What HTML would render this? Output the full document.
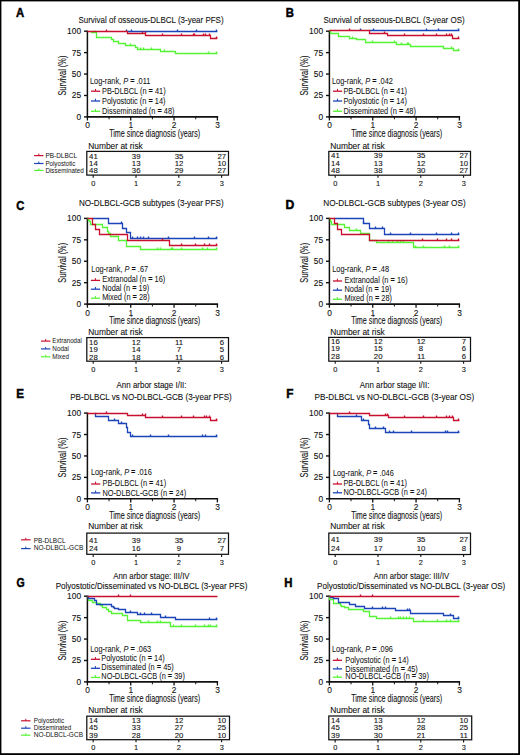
<!DOCTYPE html>
<html><head><meta charset="utf-8"><title>Kaplan-Meier survival figure</title>
<style>
html,body{margin:0;padding:0;background:#fff;}
body{width:520px;height:755px;overflow:hidden;}
svg{display:block;font-family:"Liberation Sans",sans-serif;}
text{stroke:#111;stroke-width:0.1px}

</style></head><body>
<svg width="520" height="755" viewBox="0 0 520 755">
<rect x="0" y="0" width="520" height="755" fill="#fff"/>
<g class="t">
<text x="16.02" y="16.9" font-size="12.9" font-weight="bold" fill="#000" style="stroke:#000;stroke-width:0.5px" textLength="8.19" lengthAdjust="spacingAndGlyphs">A</text>
<text x="285.76" y="16.9" font-size="12.9" font-weight="bold" fill="#000" style="stroke:#000;stroke-width:0.5px" textLength="8.17" lengthAdjust="spacingAndGlyphs">B</text>
<text x="16.25" y="209.5" font-size="12.9" font-weight="bold" fill="#000" style="stroke:#000;stroke-width:0.5px" textLength="8.05" lengthAdjust="spacingAndGlyphs">C</text>
<text x="285.51" y="209.2" font-size="12.9" font-weight="bold" fill="#000" style="stroke:#000;stroke-width:0.5px" textLength="8.81" lengthAdjust="spacingAndGlyphs">D</text>
<text x="16.14" y="397.9" font-size="12.9" font-weight="bold" fill="#000" style="stroke:#000;stroke-width:0.5px" textLength="7.79" lengthAdjust="spacingAndGlyphs">E</text>
<text x="286.24" y="397.9" font-size="12.9" font-weight="bold" fill="#000" style="stroke:#000;stroke-width:0.5px" textLength="7.19" lengthAdjust="spacingAndGlyphs">F</text>
<text x="16.48" y="586.7" font-size="12.9" font-weight="bold" fill="#000" style="stroke:#000;stroke-width:0.5px" textLength="8.18" lengthAdjust="spacingAndGlyphs">G</text>
<text x="284.36" y="586.9" font-size="12.9" font-weight="bold" fill="#000" style="stroke:#000;stroke-width:0.5px" textLength="8.2" lengthAdjust="spacingAndGlyphs">H</text>
<text x="78.44" y="23.2" font-size="9.8" fill="#111" textLength="145.15" lengthAdjust="spacingAndGlyphs">Survival of osseous-DLBCL (3-year PFS)</text>
<text x="323.44" y="23.2" font-size="9.8" fill="#111" textLength="141.25" lengthAdjust="spacingAndGlyphs">Survival of osseous-DLBCL (3-year OS)</text>
<text x="78.95" y="205.6" font-size="9.8" fill="#111" textLength="144.66" lengthAdjust="spacingAndGlyphs">NO-DLBCL-GCB subtypes (3-year PFS)</text>
<text x="323.24" y="205.7" font-size="9.8" fill="#111" textLength="142.38" lengthAdjust="spacingAndGlyphs">NO-DLBCL-GCB subtypes (3-year OS)</text>
<text x="116.5" y="387.6" font-size="9.5" fill="#111" textLength="70.04" lengthAdjust="spacingAndGlyphs">Ann arbor stage I/II:</text>
<text x="70.15" y="400.3" font-size="9.6" fill="#111" textLength="161.65" lengthAdjust="spacingAndGlyphs">PB-DLBCL vs NO-DLBCL-GCB (3-year PFS)</text>
<text x="359.8" y="387.6" font-size="9.5" fill="#111" textLength="69.64" lengthAdjust="spacingAndGlyphs">Ann arbor stage I/II:</text>
<text x="314.54" y="400.3" font-size="9.6" fill="#111" textLength="159.67" lengthAdjust="spacingAndGlyphs">PB-DLBCL vs NO-DLBCL-GCB (3-year OS)</text>
<text x="113.2" y="578.5" font-size="9.2" fill="#111" textLength="76.36" lengthAdjust="spacingAndGlyphs">Ann arbor stage: III/IV</text>
<text x="55.65" y="588.7" font-size="9.2" fill="#111" textLength="191.76" lengthAdjust="spacingAndGlyphs">Polyostotic/Disseminated vs NO-DLBCL (3-year PFS)</text>
<text x="373.8" y="578.6" font-size="9.2" fill="#111" textLength="75.46" lengthAdjust="spacingAndGlyphs">Ann arbor stage: III/IV</text>
<text x="317.05" y="588.7" font-size="9.2" fill="#111" textLength="188.26" lengthAdjust="spacingAndGlyphs">Polyostotic/Disseminated vs NO-DLBCL (3-year OS)</text>
<line x1="87.4" y1="30.6" x2="87.4" y2="117.6" stroke="#111" stroke-width="1.5" stroke-linecap="butt"/>
<line x1="86.7" y1="116.9" x2="218.09" y2="116.9" stroke="#111" stroke-width="1.6" stroke-linecap="butt"/>
<line x1="84" y1="116.9" x2="87.4" y2="116.9" stroke="#111" stroke-width="1.4" stroke-linecap="butt"/>
<text x="81.1" y="119.9" font-size="8.4" fill="#111" text-anchor="end">0</text>
<line x1="84" y1="95.48" x2="87.4" y2="95.48" stroke="#111" stroke-width="1.4" stroke-linecap="butt"/>
<text x="81.1" y="98.48" font-size="8.4" fill="#111" text-anchor="end">25</text>
<line x1="84" y1="74.05" x2="87.4" y2="74.05" stroke="#111" stroke-width="1.4" stroke-linecap="butt"/>
<text x="81.1" y="77.05" font-size="8.4" fill="#111" text-anchor="end">50</text>
<line x1="84" y1="52.62" x2="87.4" y2="52.62" stroke="#111" stroke-width="1.4" stroke-linecap="butt"/>
<text x="81.1" y="55.62" font-size="8.4" fill="#111" text-anchor="end">75</text>
<line x1="84" y1="31.2" x2="87.4" y2="31.2" stroke="#111" stroke-width="1.4" stroke-linecap="butt"/>
<text x="81.1" y="34.2" font-size="8.4" fill="#111" text-anchor="end">100</text>
<line x1="87.4" y1="116.9" x2="87.4" y2="120.5" stroke="#111" stroke-width="1.3" stroke-linecap="butt"/>
<text x="87.5" y="128.4" font-size="8.4" fill="#111" text-anchor="middle">0</text>
<line x1="130.73" y1="116.9" x2="130.73" y2="120.5" stroke="#111" stroke-width="1.3" stroke-linecap="butt"/>
<text x="130.83" y="128.4" font-size="8.4" fill="#111" text-anchor="middle">1</text>
<line x1="174.06" y1="116.9" x2="174.06" y2="120.5" stroke="#111" stroke-width="1.3" stroke-linecap="butt"/>
<text x="174.16" y="128.4" font-size="8.4" fill="#111" text-anchor="middle">2</text>
<line x1="217.39" y1="116.9" x2="217.39" y2="120.5" stroke="#111" stroke-width="1.3" stroke-linecap="butt"/>
<text x="217.49" y="128.4" font-size="8.4" fill="#111" text-anchor="middle">3</text>
<line x1="109.06" y1="116.9" x2="109.06" y2="119.3" stroke="#111" stroke-width="1" stroke-linecap="butt"/>
<line x1="152.4" y1="116.9" x2="152.4" y2="119.3" stroke="#111" stroke-width="1" stroke-linecap="butt"/>
<line x1="195.72" y1="116.9" x2="195.72" y2="119.3" stroke="#111" stroke-width="1" stroke-linecap="butt"/>
<text transform="translate(65.8,75.6) rotate(-90)" font-size="10.4" fill="#111" text-anchor="middle" textLength="40" lengthAdjust="spacingAndGlyphs">Survival (%)</text>
<text x="109.16" y="137" font-size="10.2" fill="#111" textLength="91.01" lengthAdjust="spacingAndGlyphs">Time since diagnosis (years)</text>
<line x1="329.4" y1="30.6" x2="329.4" y2="117.6" stroke="#111" stroke-width="1.5" stroke-linecap="butt"/>
<line x1="328.7" y1="116.9" x2="460.09" y2="116.9" stroke="#111" stroke-width="1.6" stroke-linecap="butt"/>
<line x1="326" y1="116.9" x2="329.4" y2="116.9" stroke="#111" stroke-width="1.4" stroke-linecap="butt"/>
<text x="323.1" y="119.9" font-size="8.4" fill="#111" text-anchor="end">0</text>
<line x1="326" y1="95.48" x2="329.4" y2="95.48" stroke="#111" stroke-width="1.4" stroke-linecap="butt"/>
<text x="323.1" y="98.48" font-size="8.4" fill="#111" text-anchor="end">25</text>
<line x1="326" y1="74.05" x2="329.4" y2="74.05" stroke="#111" stroke-width="1.4" stroke-linecap="butt"/>
<text x="323.1" y="77.05" font-size="8.4" fill="#111" text-anchor="end">50</text>
<line x1="326" y1="52.62" x2="329.4" y2="52.62" stroke="#111" stroke-width="1.4" stroke-linecap="butt"/>
<text x="323.1" y="55.62" font-size="8.4" fill="#111" text-anchor="end">75</text>
<line x1="326" y1="31.2" x2="329.4" y2="31.2" stroke="#111" stroke-width="1.4" stroke-linecap="butt"/>
<text x="323.1" y="34.2" font-size="8.4" fill="#111" text-anchor="end">100</text>
<line x1="329.4" y1="116.9" x2="329.4" y2="120.5" stroke="#111" stroke-width="1.3" stroke-linecap="butt"/>
<text x="329.5" y="128.4" font-size="8.4" fill="#111" text-anchor="middle">0</text>
<line x1="372.73" y1="116.9" x2="372.73" y2="120.5" stroke="#111" stroke-width="1.3" stroke-linecap="butt"/>
<text x="372.83" y="128.4" font-size="8.4" fill="#111" text-anchor="middle">1</text>
<line x1="416.06" y1="116.9" x2="416.06" y2="120.5" stroke="#111" stroke-width="1.3" stroke-linecap="butt"/>
<text x="416.16" y="128.4" font-size="8.4" fill="#111" text-anchor="middle">2</text>
<line x1="459.39" y1="116.9" x2="459.39" y2="120.5" stroke="#111" stroke-width="1.3" stroke-linecap="butt"/>
<text x="459.49" y="128.4" font-size="8.4" fill="#111" text-anchor="middle">3</text>
<line x1="351.06" y1="116.9" x2="351.06" y2="119.3" stroke="#111" stroke-width="1" stroke-linecap="butt"/>
<line x1="394.39" y1="116.9" x2="394.39" y2="119.3" stroke="#111" stroke-width="1" stroke-linecap="butt"/>
<line x1="437.72" y1="116.9" x2="437.72" y2="119.3" stroke="#111" stroke-width="1" stroke-linecap="butt"/>
<text transform="translate(307.8,75.6) rotate(-90)" font-size="10.4" fill="#111" text-anchor="middle" textLength="40" lengthAdjust="spacingAndGlyphs">Survival (%)</text>
<text x="351.16" y="137" font-size="10.2" fill="#111" textLength="91.01" lengthAdjust="spacingAndGlyphs">Time since diagnosis (years)</text>
<line x1="87.4" y1="217.8" x2="87.4" y2="304.8" stroke="#111" stroke-width="1.5" stroke-linecap="butt"/>
<line x1="86.7" y1="304.1" x2="218.09" y2="304.1" stroke="#111" stroke-width="1.6" stroke-linecap="butt"/>
<line x1="84" y1="304.1" x2="87.4" y2="304.1" stroke="#111" stroke-width="1.4" stroke-linecap="butt"/>
<text x="81.1" y="307.1" font-size="8.4" fill="#111" text-anchor="end">0</text>
<line x1="84" y1="282.68" x2="87.4" y2="282.68" stroke="#111" stroke-width="1.4" stroke-linecap="butt"/>
<text x="81.1" y="285.68" font-size="8.4" fill="#111" text-anchor="end">25</text>
<line x1="84" y1="261.25" x2="87.4" y2="261.25" stroke="#111" stroke-width="1.4" stroke-linecap="butt"/>
<text x="81.1" y="264.25" font-size="8.4" fill="#111" text-anchor="end">50</text>
<line x1="84" y1="239.83" x2="87.4" y2="239.83" stroke="#111" stroke-width="1.4" stroke-linecap="butt"/>
<text x="81.1" y="242.83" font-size="8.4" fill="#111" text-anchor="end">75</text>
<line x1="84" y1="218.4" x2="87.4" y2="218.4" stroke="#111" stroke-width="1.4" stroke-linecap="butt"/>
<text x="81.1" y="221.4" font-size="8.4" fill="#111" text-anchor="end">100</text>
<line x1="87.4" y1="304.1" x2="87.4" y2="307.7" stroke="#111" stroke-width="1.3" stroke-linecap="butt"/>
<text x="87.5" y="315.6" font-size="8.4" fill="#111" text-anchor="middle">0</text>
<line x1="130.73" y1="304.1" x2="130.73" y2="307.7" stroke="#111" stroke-width="1.3" stroke-linecap="butt"/>
<text x="130.83" y="315.6" font-size="8.4" fill="#111" text-anchor="middle">1</text>
<line x1="174.06" y1="304.1" x2="174.06" y2="307.7" stroke="#111" stroke-width="1.3" stroke-linecap="butt"/>
<text x="174.16" y="315.6" font-size="8.4" fill="#111" text-anchor="middle">2</text>
<line x1="217.39" y1="304.1" x2="217.39" y2="307.7" stroke="#111" stroke-width="1.3" stroke-linecap="butt"/>
<text x="217.49" y="315.6" font-size="8.4" fill="#111" text-anchor="middle">3</text>
<line x1="109.06" y1="304.1" x2="109.06" y2="306.5" stroke="#111" stroke-width="1" stroke-linecap="butt"/>
<line x1="152.4" y1="304.1" x2="152.4" y2="306.5" stroke="#111" stroke-width="1" stroke-linecap="butt"/>
<line x1="195.72" y1="304.1" x2="195.72" y2="306.5" stroke="#111" stroke-width="1" stroke-linecap="butt"/>
<text transform="translate(65.8,262.8) rotate(-90)" font-size="10.4" fill="#111" text-anchor="middle" textLength="40" lengthAdjust="spacingAndGlyphs">Survival (%)</text>
<text x="109.16" y="324.2" font-size="10.2" fill="#111" textLength="91.01" lengthAdjust="spacingAndGlyphs">Time since diagnosis (years)</text>
<line x1="329.4" y1="217.8" x2="329.4" y2="304.8" stroke="#111" stroke-width="1.5" stroke-linecap="butt"/>
<line x1="328.7" y1="304.1" x2="460.09" y2="304.1" stroke="#111" stroke-width="1.6" stroke-linecap="butt"/>
<line x1="326" y1="304.1" x2="329.4" y2="304.1" stroke="#111" stroke-width="1.4" stroke-linecap="butt"/>
<text x="323.1" y="307.1" font-size="8.4" fill="#111" text-anchor="end">0</text>
<line x1="326" y1="282.68" x2="329.4" y2="282.68" stroke="#111" stroke-width="1.4" stroke-linecap="butt"/>
<text x="323.1" y="285.68" font-size="8.4" fill="#111" text-anchor="end">25</text>
<line x1="326" y1="261.25" x2="329.4" y2="261.25" stroke="#111" stroke-width="1.4" stroke-linecap="butt"/>
<text x="323.1" y="264.25" font-size="8.4" fill="#111" text-anchor="end">50</text>
<line x1="326" y1="239.83" x2="329.4" y2="239.83" stroke="#111" stroke-width="1.4" stroke-linecap="butt"/>
<text x="323.1" y="242.83" font-size="8.4" fill="#111" text-anchor="end">75</text>
<line x1="326" y1="218.4" x2="329.4" y2="218.4" stroke="#111" stroke-width="1.4" stroke-linecap="butt"/>
<text x="323.1" y="221.4" font-size="8.4" fill="#111" text-anchor="end">100</text>
<line x1="329.4" y1="304.1" x2="329.4" y2="307.7" stroke="#111" stroke-width="1.3" stroke-linecap="butt"/>
<text x="329.5" y="315.6" font-size="8.4" fill="#111" text-anchor="middle">0</text>
<line x1="372.73" y1="304.1" x2="372.73" y2="307.7" stroke="#111" stroke-width="1.3" stroke-linecap="butt"/>
<text x="372.83" y="315.6" font-size="8.4" fill="#111" text-anchor="middle">1</text>
<line x1="416.06" y1="304.1" x2="416.06" y2="307.7" stroke="#111" stroke-width="1.3" stroke-linecap="butt"/>
<text x="416.16" y="315.6" font-size="8.4" fill="#111" text-anchor="middle">2</text>
<line x1="459.39" y1="304.1" x2="459.39" y2="307.7" stroke="#111" stroke-width="1.3" stroke-linecap="butt"/>
<text x="459.49" y="315.6" font-size="8.4" fill="#111" text-anchor="middle">3</text>
<line x1="351.06" y1="304.1" x2="351.06" y2="306.5" stroke="#111" stroke-width="1" stroke-linecap="butt"/>
<line x1="394.39" y1="304.1" x2="394.39" y2="306.5" stroke="#111" stroke-width="1" stroke-linecap="butt"/>
<line x1="437.72" y1="304.1" x2="437.72" y2="306.5" stroke="#111" stroke-width="1" stroke-linecap="butt"/>
<text transform="translate(307.8,262.8) rotate(-90)" font-size="10.4" fill="#111" text-anchor="middle" textLength="40" lengthAdjust="spacingAndGlyphs">Survival (%)</text>
<text x="351.16" y="324.2" font-size="10.2" fill="#111" textLength="91.01" lengthAdjust="spacingAndGlyphs">Time since diagnosis (years)</text>
<line x1="87.4" y1="412.5" x2="87.4" y2="499.5" stroke="#111" stroke-width="1.5" stroke-linecap="butt"/>
<line x1="86.7" y1="498.8" x2="218.09" y2="498.8" stroke="#111" stroke-width="1.6" stroke-linecap="butt"/>
<line x1="84" y1="498.8" x2="87.4" y2="498.8" stroke="#111" stroke-width="1.4" stroke-linecap="butt"/>
<text x="81.1" y="501.8" font-size="8.4" fill="#111" text-anchor="end">0</text>
<line x1="84" y1="477.38" x2="87.4" y2="477.38" stroke="#111" stroke-width="1.4" stroke-linecap="butt"/>
<text x="81.1" y="480.38" font-size="8.4" fill="#111" text-anchor="end">25</text>
<line x1="84" y1="455.95" x2="87.4" y2="455.95" stroke="#111" stroke-width="1.4" stroke-linecap="butt"/>
<text x="81.1" y="458.95" font-size="8.4" fill="#111" text-anchor="end">50</text>
<line x1="84" y1="434.52" x2="87.4" y2="434.52" stroke="#111" stroke-width="1.4" stroke-linecap="butt"/>
<text x="81.1" y="437.52" font-size="8.4" fill="#111" text-anchor="end">75</text>
<line x1="84" y1="413.1" x2="87.4" y2="413.1" stroke="#111" stroke-width="1.4" stroke-linecap="butt"/>
<text x="81.1" y="416.1" font-size="8.4" fill="#111" text-anchor="end">100</text>
<line x1="87.4" y1="498.8" x2="87.4" y2="502.4" stroke="#111" stroke-width="1.3" stroke-linecap="butt"/>
<text x="87.5" y="510.3" font-size="8.4" fill="#111" text-anchor="middle">0</text>
<line x1="130.73" y1="498.8" x2="130.73" y2="502.4" stroke="#111" stroke-width="1.3" stroke-linecap="butt"/>
<text x="130.83" y="510.3" font-size="8.4" fill="#111" text-anchor="middle">1</text>
<line x1="174.06" y1="498.8" x2="174.06" y2="502.4" stroke="#111" stroke-width="1.3" stroke-linecap="butt"/>
<text x="174.16" y="510.3" font-size="8.4" fill="#111" text-anchor="middle">2</text>
<line x1="217.39" y1="498.8" x2="217.39" y2="502.4" stroke="#111" stroke-width="1.3" stroke-linecap="butt"/>
<text x="217.49" y="510.3" font-size="8.4" fill="#111" text-anchor="middle">3</text>
<line x1="109.06" y1="498.8" x2="109.06" y2="501.2" stroke="#111" stroke-width="1" stroke-linecap="butt"/>
<line x1="152.4" y1="498.8" x2="152.4" y2="501.2" stroke="#111" stroke-width="1" stroke-linecap="butt"/>
<line x1="195.72" y1="498.8" x2="195.72" y2="501.2" stroke="#111" stroke-width="1" stroke-linecap="butt"/>
<text transform="translate(65.8,457.5) rotate(-90)" font-size="10.4" fill="#111" text-anchor="middle" textLength="40" lengthAdjust="spacingAndGlyphs">Survival (%)</text>
<text x="109.16" y="518.9" font-size="10.2" fill="#111" textLength="91.01" lengthAdjust="spacingAndGlyphs">Time since diagnosis (years)</text>
<line x1="329.4" y1="412.5" x2="329.4" y2="499.5" stroke="#111" stroke-width="1.5" stroke-linecap="butt"/>
<line x1="328.7" y1="498.8" x2="460.09" y2="498.8" stroke="#111" stroke-width="1.6" stroke-linecap="butt"/>
<line x1="326" y1="498.8" x2="329.4" y2="498.8" stroke="#111" stroke-width="1.4" stroke-linecap="butt"/>
<text x="323.1" y="501.8" font-size="8.4" fill="#111" text-anchor="end">0</text>
<line x1="326" y1="477.38" x2="329.4" y2="477.38" stroke="#111" stroke-width="1.4" stroke-linecap="butt"/>
<text x="323.1" y="480.38" font-size="8.4" fill="#111" text-anchor="end">25</text>
<line x1="326" y1="455.95" x2="329.4" y2="455.95" stroke="#111" stroke-width="1.4" stroke-linecap="butt"/>
<text x="323.1" y="458.95" font-size="8.4" fill="#111" text-anchor="end">50</text>
<line x1="326" y1="434.52" x2="329.4" y2="434.52" stroke="#111" stroke-width="1.4" stroke-linecap="butt"/>
<text x="323.1" y="437.52" font-size="8.4" fill="#111" text-anchor="end">75</text>
<line x1="326" y1="413.1" x2="329.4" y2="413.1" stroke="#111" stroke-width="1.4" stroke-linecap="butt"/>
<text x="323.1" y="416.1" font-size="8.4" fill="#111" text-anchor="end">100</text>
<line x1="329.4" y1="498.8" x2="329.4" y2="502.4" stroke="#111" stroke-width="1.3" stroke-linecap="butt"/>
<text x="329.5" y="510.3" font-size="8.4" fill="#111" text-anchor="middle">0</text>
<line x1="372.73" y1="498.8" x2="372.73" y2="502.4" stroke="#111" stroke-width="1.3" stroke-linecap="butt"/>
<text x="372.83" y="510.3" font-size="8.4" fill="#111" text-anchor="middle">1</text>
<line x1="416.06" y1="498.8" x2="416.06" y2="502.4" stroke="#111" stroke-width="1.3" stroke-linecap="butt"/>
<text x="416.16" y="510.3" font-size="8.4" fill="#111" text-anchor="middle">2</text>
<line x1="459.39" y1="498.8" x2="459.39" y2="502.4" stroke="#111" stroke-width="1.3" stroke-linecap="butt"/>
<text x="459.49" y="510.3" font-size="8.4" fill="#111" text-anchor="middle">3</text>
<line x1="351.06" y1="498.8" x2="351.06" y2="501.2" stroke="#111" stroke-width="1" stroke-linecap="butt"/>
<line x1="394.39" y1="498.8" x2="394.39" y2="501.2" stroke="#111" stroke-width="1" stroke-linecap="butt"/>
<line x1="437.72" y1="498.8" x2="437.72" y2="501.2" stroke="#111" stroke-width="1" stroke-linecap="butt"/>
<text transform="translate(307.8,457.5) rotate(-90)" font-size="10.4" fill="#111" text-anchor="middle" textLength="40" lengthAdjust="spacingAndGlyphs">Survival (%)</text>
<text x="351.16" y="518.9" font-size="10.2" fill="#111" textLength="91.01" lengthAdjust="spacingAndGlyphs">Time since diagnosis (years)</text>
<line x1="87.4" y1="595.6" x2="87.4" y2="682.6" stroke="#111" stroke-width="1.5" stroke-linecap="butt"/>
<line x1="86.7" y1="681.9" x2="218.09" y2="681.9" stroke="#111" stroke-width="1.6" stroke-linecap="butt"/>
<line x1="84" y1="681.9" x2="87.4" y2="681.9" stroke="#111" stroke-width="1.4" stroke-linecap="butt"/>
<text x="81.1" y="684.9" font-size="8.4" fill="#111" text-anchor="end">0</text>
<line x1="84" y1="660.48" x2="87.4" y2="660.48" stroke="#111" stroke-width="1.4" stroke-linecap="butt"/>
<text x="81.1" y="663.48" font-size="8.4" fill="#111" text-anchor="end">25</text>
<line x1="84" y1="639.05" x2="87.4" y2="639.05" stroke="#111" stroke-width="1.4" stroke-linecap="butt"/>
<text x="81.1" y="642.05" font-size="8.4" fill="#111" text-anchor="end">50</text>
<line x1="84" y1="617.62" x2="87.4" y2="617.62" stroke="#111" stroke-width="1.4" stroke-linecap="butt"/>
<text x="81.1" y="620.62" font-size="8.4" fill="#111" text-anchor="end">75</text>
<line x1="84" y1="596.2" x2="87.4" y2="596.2" stroke="#111" stroke-width="1.4" stroke-linecap="butt"/>
<text x="81.1" y="599.2" font-size="8.4" fill="#111" text-anchor="end">100</text>
<line x1="87.4" y1="681.9" x2="87.4" y2="685.5" stroke="#111" stroke-width="1.3" stroke-linecap="butt"/>
<text x="87.5" y="693.4" font-size="8.4" fill="#111" text-anchor="middle">0</text>
<line x1="130.73" y1="681.9" x2="130.73" y2="685.5" stroke="#111" stroke-width="1.3" stroke-linecap="butt"/>
<text x="130.83" y="693.4" font-size="8.4" fill="#111" text-anchor="middle">1</text>
<line x1="174.06" y1="681.9" x2="174.06" y2="685.5" stroke="#111" stroke-width="1.3" stroke-linecap="butt"/>
<text x="174.16" y="693.4" font-size="8.4" fill="#111" text-anchor="middle">2</text>
<line x1="217.39" y1="681.9" x2="217.39" y2="685.5" stroke="#111" stroke-width="1.3" stroke-linecap="butt"/>
<text x="217.49" y="693.4" font-size="8.4" fill="#111" text-anchor="middle">3</text>
<line x1="109.06" y1="681.9" x2="109.06" y2="684.3" stroke="#111" stroke-width="1" stroke-linecap="butt"/>
<line x1="152.4" y1="681.9" x2="152.4" y2="684.3" stroke="#111" stroke-width="1" stroke-linecap="butt"/>
<line x1="195.72" y1="681.9" x2="195.72" y2="684.3" stroke="#111" stroke-width="1" stroke-linecap="butt"/>
<text transform="translate(65.8,640.6) rotate(-90)" font-size="10.4" fill="#111" text-anchor="middle" textLength="40" lengthAdjust="spacingAndGlyphs">Survival (%)</text>
<text x="109.16" y="702" font-size="10.2" fill="#111" textLength="91.01" lengthAdjust="spacingAndGlyphs">Time since diagnosis (years)</text>
<line x1="329.4" y1="595.6" x2="329.4" y2="682.6" stroke="#111" stroke-width="1.5" stroke-linecap="butt"/>
<line x1="328.7" y1="681.9" x2="460.09" y2="681.9" stroke="#111" stroke-width="1.6" stroke-linecap="butt"/>
<line x1="326" y1="681.9" x2="329.4" y2="681.9" stroke="#111" stroke-width="1.4" stroke-linecap="butt"/>
<text x="323.1" y="684.9" font-size="8.4" fill="#111" text-anchor="end">0</text>
<line x1="326" y1="660.48" x2="329.4" y2="660.48" stroke="#111" stroke-width="1.4" stroke-linecap="butt"/>
<text x="323.1" y="663.48" font-size="8.4" fill="#111" text-anchor="end">25</text>
<line x1="326" y1="639.05" x2="329.4" y2="639.05" stroke="#111" stroke-width="1.4" stroke-linecap="butt"/>
<text x="323.1" y="642.05" font-size="8.4" fill="#111" text-anchor="end">50</text>
<line x1="326" y1="617.62" x2="329.4" y2="617.62" stroke="#111" stroke-width="1.4" stroke-linecap="butt"/>
<text x="323.1" y="620.62" font-size="8.4" fill="#111" text-anchor="end">75</text>
<line x1="326" y1="596.2" x2="329.4" y2="596.2" stroke="#111" stroke-width="1.4" stroke-linecap="butt"/>
<text x="323.1" y="599.2" font-size="8.4" fill="#111" text-anchor="end">100</text>
<line x1="329.4" y1="681.9" x2="329.4" y2="685.5" stroke="#111" stroke-width="1.3" stroke-linecap="butt"/>
<text x="329.5" y="693.4" font-size="8.4" fill="#111" text-anchor="middle">0</text>
<line x1="372.73" y1="681.9" x2="372.73" y2="685.5" stroke="#111" stroke-width="1.3" stroke-linecap="butt"/>
<text x="372.83" y="693.4" font-size="8.4" fill="#111" text-anchor="middle">1</text>
<line x1="416.06" y1="681.9" x2="416.06" y2="685.5" stroke="#111" stroke-width="1.3" stroke-linecap="butt"/>
<text x="416.16" y="693.4" font-size="8.4" fill="#111" text-anchor="middle">2</text>
<line x1="459.39" y1="681.9" x2="459.39" y2="685.5" stroke="#111" stroke-width="1.3" stroke-linecap="butt"/>
<text x="459.49" y="693.4" font-size="8.4" fill="#111" text-anchor="middle">3</text>
<line x1="351.06" y1="681.9" x2="351.06" y2="684.3" stroke="#111" stroke-width="1" stroke-linecap="butt"/>
<line x1="394.39" y1="681.9" x2="394.39" y2="684.3" stroke="#111" stroke-width="1" stroke-linecap="butt"/>
<line x1="437.72" y1="681.9" x2="437.72" y2="684.3" stroke="#111" stroke-width="1" stroke-linecap="butt"/>
<text transform="translate(307.8,640.6) rotate(-90)" font-size="10.4" fill="#111" text-anchor="middle" textLength="40" lengthAdjust="spacingAndGlyphs">Survival (%)</text>
<text x="351.16" y="702" font-size="10.2" fill="#111" textLength="91.01" lengthAdjust="spacingAndGlyphs">Time since diagnosis (years)</text>
<path d="M91.5 31.5H91.5 V32.5H96.5 V37.5H111.5 V39.5H113.5 V41.5H118.5 V43.5H125.5 V45.5H135.5 V47.5H137.5 V49.5H160.5 V51.5H175.5 V53.5H217.39" fill="none" stroke="#55f535" stroke-width="1.3" stroke-linejoin="miter"/>
<line x1="95.5" y1="32.5" x2="95.5" y2="30.5" stroke="#55f535" stroke-width="1.4" stroke-linecap="butt"/>
<line x1="130.5" y1="45.5" x2="130.5" y2="43.5" stroke="#55f535" stroke-width="1.4" stroke-linecap="butt"/>
<line x1="140.5" y1="49.5" x2="140.5" y2="47.5" stroke="#55f535" stroke-width="1.4" stroke-linecap="butt"/>
<line x1="143.5" y1="49.5" x2="143.5" y2="47.5" stroke="#55f535" stroke-width="1.4" stroke-linecap="butt"/>
<line x1="151.5" y1="49.5" x2="151.5" y2="47.5" stroke="#55f535" stroke-width="1.4" stroke-linecap="butt"/>
<line x1="164.5" y1="51.5" x2="164.5" y2="49.5" stroke="#55f535" stroke-width="1.4" stroke-linecap="butt"/>
<line x1="208.5" y1="53.5" x2="208.5" y2="51.5" stroke="#55f535" stroke-width="1.4" stroke-linecap="butt"/>
<line x1="216.5" y1="53.5" x2="216.5" y2="51.5" stroke="#55f535" stroke-width="1.4" stroke-linecap="butt"/>
<path d="M127.7 31.5H217.39" fill="none" stroke="#1a44b8" stroke-width="1.3" stroke-linejoin="miter"/>
<line x1="126.5" y1="31.5" x2="126.5" y2="29.5" stroke="#1a44b8" stroke-width="1.4" stroke-linecap="butt"/>
<line x1="131.5" y1="31.5" x2="131.5" y2="29.5" stroke="#1a44b8" stroke-width="1.4" stroke-linecap="butt"/>
<line x1="177.5" y1="31.5" x2="177.5" y2="29.5" stroke="#1a44b8" stroke-width="1.4" stroke-linecap="butt"/>
<line x1="196.5" y1="31.5" x2="196.5" y2="29.5" stroke="#1a44b8" stroke-width="1.4" stroke-linecap="butt"/>
<line x1="216.5" y1="31.5" x2="216.5" y2="29.5" stroke="#1a44b8" stroke-width="1.4" stroke-linecap="butt"/>
<path d="M87.4 31.5H127.5 V33.5H145.5 V35.5H210.5 V38.5H217.39" fill="none" stroke="#c8102e" stroke-width="1.3" stroke-linejoin="miter"/>
<line x1="106.5" y1="31.5" x2="106.5" y2="29.5" stroke="#c8102e" stroke-width="1.4" stroke-linecap="butt"/>
<line x1="142.5" y1="33.5" x2="142.5" y2="31.5" stroke="#c8102e" stroke-width="1.4" stroke-linecap="butt"/>
<line x1="145.5" y1="33.5" x2="145.5" y2="31.5" stroke="#c8102e" stroke-width="1.4" stroke-linecap="butt"/>
<line x1="162.5" y1="35.5" x2="162.5" y2="33.5" stroke="#c8102e" stroke-width="1.4" stroke-linecap="butt"/>
<line x1="181.5" y1="35.5" x2="181.5" y2="33.5" stroke="#c8102e" stroke-width="1.4" stroke-linecap="butt"/>
<line x1="193.5" y1="35.5" x2="193.5" y2="33.5" stroke="#c8102e" stroke-width="1.4" stroke-linecap="butt"/>
<line x1="194.5" y1="35.5" x2="194.5" y2="33.5" stroke="#c8102e" stroke-width="1.4" stroke-linecap="butt"/>
<line x1="203.5" y1="35.5" x2="203.5" y2="33.5" stroke="#c8102e" stroke-width="1.4" stroke-linecap="butt"/>
<line x1="205.5" y1="35.5" x2="205.5" y2="33.5" stroke="#c8102e" stroke-width="1.4" stroke-linecap="butt"/>
<line x1="209.5" y1="35.5" x2="209.5" y2="33.5" stroke="#c8102e" stroke-width="1.4" stroke-linecap="butt"/>
<line x1="216.5" y1="38.5" x2="216.5" y2="36.5" stroke="#c8102e" stroke-width="1.4" stroke-linecap="butt"/>
<path d="M329.4 30.5H330.5 V33.5H338.5 V36.5H349.5 V38.5H356.5 V39.5H365.5 V42.5H396.5 V44.5H410.5 V46.5H443.5 V48.5H453.5 V50.5H459.39" fill="none" stroke="#55f535" stroke-width="1.3" stroke-linejoin="miter"/>
<line x1="352.5" y1="38.5" x2="352.5" y2="36.5" stroke="#55f535" stroke-width="1.4" stroke-linecap="butt"/>
<line x1="372.5" y1="42.5" x2="372.5" y2="40.5" stroke="#55f535" stroke-width="1.4" stroke-linecap="butt"/>
<line x1="394.5" y1="42.5" x2="394.5" y2="40.5" stroke="#55f535" stroke-width="1.4" stroke-linecap="butt"/>
<line x1="401.5" y1="44.5" x2="401.5" y2="42.5" stroke="#55f535" stroke-width="1.4" stroke-linecap="butt"/>
<line x1="407.5" y1="44.5" x2="407.5" y2="42.5" stroke="#55f535" stroke-width="1.4" stroke-linecap="butt"/>
<line x1="408.5" y1="44.5" x2="408.5" y2="42.5" stroke="#55f535" stroke-width="1.4" stroke-linecap="butt"/>
<line x1="451.5" y1="48.5" x2="451.5" y2="46.5" stroke="#55f535" stroke-width="1.4" stroke-linecap="butt"/>
<line x1="458.5" y1="50.5" x2="458.5" y2="48.5" stroke="#55f535" stroke-width="1.4" stroke-linecap="butt"/>
<path d="M369.5 30.5H459.39" fill="none" stroke="#1a44b8" stroke-width="1.3" stroke-linejoin="miter"/>
<line x1="360.5" y1="30.5" x2="360.5" y2="28.5" stroke="#1a44b8" stroke-width="1.4" stroke-linecap="butt"/>
<line x1="373.5" y1="30.5" x2="373.5" y2="28.5" stroke="#1a44b8" stroke-width="1.4" stroke-linecap="butt"/>
<line x1="426.5" y1="30.5" x2="426.5" y2="28.5" stroke="#1a44b8" stroke-width="1.4" stroke-linecap="butt"/>
<line x1="438.5" y1="30.5" x2="438.5" y2="28.5" stroke="#1a44b8" stroke-width="1.4" stroke-linecap="butt"/>
<line x1="458.5" y1="30.5" x2="458.5" y2="28.5" stroke="#1a44b8" stroke-width="1.4" stroke-linecap="butt"/>
<path d="M329.4 30.5H369.5 V33.5H387.5 V35.5H452.5 V38.5H459.39" fill="none" stroke="#c8102e" stroke-width="1.3" stroke-linejoin="miter"/>
<line x1="349.5" y1="30.5" x2="349.5" y2="28.5" stroke="#c8102e" stroke-width="1.4" stroke-linecap="butt"/>
<line x1="384.5" y1="33.5" x2="384.5" y2="31.5" stroke="#c8102e" stroke-width="1.4" stroke-linecap="butt"/>
<line x1="404.5" y1="35.5" x2="404.5" y2="33.5" stroke="#c8102e" stroke-width="1.4" stroke-linecap="butt"/>
<line x1="423.5" y1="35.5" x2="423.5" y2="33.5" stroke="#c8102e" stroke-width="1.4" stroke-linecap="butt"/>
<line x1="436.5" y1="35.5" x2="436.5" y2="33.5" stroke="#c8102e" stroke-width="1.4" stroke-linecap="butt"/>
<line x1="446.5" y1="35.5" x2="446.5" y2="33.5" stroke="#c8102e" stroke-width="1.4" stroke-linecap="butt"/>
<line x1="449.5" y1="35.5" x2="449.5" y2="33.5" stroke="#c8102e" stroke-width="1.4" stroke-linecap="butt"/>
<line x1="451.5" y1="35.5" x2="451.5" y2="33.5" stroke="#c8102e" stroke-width="1.4" stroke-linecap="butt"/>
<line x1="458.5" y1="38.5" x2="458.5" y2="36.5" stroke="#c8102e" stroke-width="1.4" stroke-linecap="butt"/>
<path d="M87.4 218.5H88.5 V220.5H89.5 V221.5H90.5 V224.5H102.5 V227.5H107.5 V231.5H108.5 V233.5H110.5 V236.5H118.5 V240.5H126.5 V246.5H140.5 V249.5H217.39" fill="none" stroke="#55f535" stroke-width="1.3" stroke-linejoin="miter"/>
<line x1="157.5" y1="249.5" x2="157.5" y2="247.5" stroke="#55f535" stroke-width="1.4" stroke-linecap="butt"/>
<line x1="160.5" y1="249.5" x2="160.5" y2="247.5" stroke="#55f535" stroke-width="1.4" stroke-linecap="butt"/>
<line x1="171.5" y1="249.5" x2="171.5" y2="247.5" stroke="#55f535" stroke-width="1.4" stroke-linecap="butt"/>
<line x1="172.5" y1="249.5" x2="172.5" y2="247.5" stroke="#55f535" stroke-width="1.4" stroke-linecap="butt"/>
<line x1="181.5" y1="249.5" x2="181.5" y2="247.5" stroke="#55f535" stroke-width="1.4" stroke-linecap="butt"/>
<line x1="202.5" y1="249.5" x2="202.5" y2="247.5" stroke="#55f535" stroke-width="1.4" stroke-linecap="butt"/>
<line x1="207.5" y1="249.5" x2="207.5" y2="247.5" stroke="#55f535" stroke-width="1.4" stroke-linecap="butt"/>
<line x1="216.5" y1="249.5" x2="216.5" y2="247.5" stroke="#55f535" stroke-width="1.4" stroke-linecap="butt"/>
<path d="M92.5 218.5H108.5 V223.5H122.5 V228.5H126.5 V232.5H130.5 V238.5H217.39" fill="none" stroke="#1a44b8" stroke-width="1.3" stroke-linejoin="miter"/>
<line x1="121.5" y1="223.5" x2="121.5" y2="221.5" stroke="#1a44b8" stroke-width="1.4" stroke-linecap="butt"/>
<line x1="132.5" y1="238.5" x2="132.5" y2="236.5" stroke="#1a44b8" stroke-width="1.4" stroke-linecap="butt"/>
<line x1="137.5" y1="238.5" x2="137.5" y2="236.5" stroke="#1a44b8" stroke-width="1.4" stroke-linecap="butt"/>
<line x1="140.5" y1="238.5" x2="140.5" y2="236.5" stroke="#1a44b8" stroke-width="1.4" stroke-linecap="butt"/>
<line x1="143.5" y1="238.5" x2="143.5" y2="236.5" stroke="#1a44b8" stroke-width="1.4" stroke-linecap="butt"/>
<line x1="148.5" y1="238.5" x2="148.5" y2="236.5" stroke="#1a44b8" stroke-width="1.4" stroke-linecap="butt"/>
<line x1="168.5" y1="238.5" x2="168.5" y2="236.5" stroke="#1a44b8" stroke-width="1.4" stroke-linecap="butt"/>
<line x1="194.5" y1="238.5" x2="194.5" y2="236.5" stroke="#1a44b8" stroke-width="1.4" stroke-linecap="butt"/>
<line x1="208.5" y1="238.5" x2="208.5" y2="236.5" stroke="#1a44b8" stroke-width="1.4" stroke-linecap="butt"/>
<line x1="216.5" y1="238.5" x2="216.5" y2="236.5" stroke="#1a44b8" stroke-width="1.4" stroke-linecap="butt"/>
<path d="M87.4 218.5H92.5 V224.5H95.5 V229.5H99.5 V234.5H127.5 V240.5H169.5 V245.5H217.39" fill="none" stroke="#c8102e" stroke-width="1.3" stroke-linejoin="miter"/>
<line x1="162.5" y1="240.5" x2="162.5" y2="238.5" stroke="#c8102e" stroke-width="1.4" stroke-linecap="butt"/>
<line x1="181.5" y1="245.5" x2="181.5" y2="243.5" stroke="#c8102e" stroke-width="1.4" stroke-linecap="butt"/>
<line x1="195.5" y1="245.5" x2="195.5" y2="243.5" stroke="#c8102e" stroke-width="1.4" stroke-linecap="butt"/>
<line x1="204.5" y1="245.5" x2="204.5" y2="243.5" stroke="#c8102e" stroke-width="1.4" stroke-linecap="butt"/>
<line x1="209.5" y1="245.5" x2="209.5" y2="243.5" stroke="#c8102e" stroke-width="1.4" stroke-linecap="butt"/>
<line x1="216.5" y1="245.5" x2="216.5" y2="243.5" stroke="#c8102e" stroke-width="1.4" stroke-linecap="butt"/>
<path d="M329.4 218.5H330.5 V221.5H331.5 V224.5H344.5 V227.5H349.5 V230.5H360.5 V233.5H369.5 V240.5H376.5 V242.5H413.5 V247.5H459.39" fill="none" stroke="#55f535" stroke-width="1.3" stroke-linejoin="miter"/>
<line x1="356.5" y1="230.5" x2="356.5" y2="228.5" stroke="#55f535" stroke-width="1.4" stroke-linecap="butt"/>
<line x1="388.5" y1="242.5" x2="388.5" y2="240.5" stroke="#55f535" stroke-width="1.4" stroke-linecap="butt"/>
<line x1="392.5" y1="242.5" x2="392.5" y2="240.5" stroke="#55f535" stroke-width="1.4" stroke-linecap="butt"/>
<line x1="397.5" y1="242.5" x2="397.5" y2="240.5" stroke="#55f535" stroke-width="1.4" stroke-linecap="butt"/>
<line x1="400.5" y1="242.5" x2="400.5" y2="240.5" stroke="#55f535" stroke-width="1.4" stroke-linecap="butt"/>
<line x1="403.5" y1="242.5" x2="403.5" y2="240.5" stroke="#55f535" stroke-width="1.4" stroke-linecap="butt"/>
<line x1="415.5" y1="247.5" x2="415.5" y2="245.5" stroke="#55f535" stroke-width="1.4" stroke-linecap="butt"/>
<line x1="423.5" y1="247.5" x2="423.5" y2="245.5" stroke="#55f535" stroke-width="1.4" stroke-linecap="butt"/>
<line x1="444.5" y1="247.5" x2="444.5" y2="245.5" stroke="#55f535" stroke-width="1.4" stroke-linecap="butt"/>
<line x1="449.5" y1="247.5" x2="449.5" y2="245.5" stroke="#55f535" stroke-width="1.4" stroke-linecap="butt"/>
<line x1="458.5" y1="247.5" x2="458.5" y2="245.5" stroke="#55f535" stroke-width="1.4" stroke-linecap="butt"/>
<path d="M334.5 218.5H363.5 V223.5H369.5 V228.5H384.5 V234.5H459.39" fill="none" stroke="#1a44b8" stroke-width="1.3" stroke-linejoin="miter"/>
<line x1="363.5" y1="223.5" x2="363.5" y2="221.5" stroke="#1a44b8" stroke-width="1.4" stroke-linecap="butt"/>
<line x1="375.5" y1="228.5" x2="375.5" y2="226.5" stroke="#1a44b8" stroke-width="1.4" stroke-linecap="butt"/>
<line x1="382.5" y1="228.5" x2="382.5" y2="226.5" stroke="#1a44b8" stroke-width="1.4" stroke-linecap="butt"/>
<line x1="390.5" y1="234.5" x2="390.5" y2="232.5" stroke="#1a44b8" stroke-width="1.4" stroke-linecap="butt"/>
<line x1="410.5" y1="234.5" x2="410.5" y2="232.5" stroke="#1a44b8" stroke-width="1.4" stroke-linecap="butt"/>
<line x1="436.5" y1="234.5" x2="436.5" y2="232.5" stroke="#1a44b8" stroke-width="1.4" stroke-linecap="butt"/>
<line x1="451.5" y1="234.5" x2="451.5" y2="232.5" stroke="#1a44b8" stroke-width="1.4" stroke-linecap="butt"/>
<line x1="458.5" y1="234.5" x2="458.5" y2="232.5" stroke="#1a44b8" stroke-width="1.4" stroke-linecap="butt"/>
<path d="M329.4 218.5H334.5 V223.5H337.5 V229.5H341.5 V234.5H369.5 V240.5H459.39" fill="none" stroke="#c8102e" stroke-width="1.3" stroke-linejoin="miter"/>
<line x1="422.5" y1="240.5" x2="422.5" y2="238.5" stroke="#c8102e" stroke-width="1.4" stroke-linecap="butt"/>
<line x1="437.5" y1="240.5" x2="437.5" y2="238.5" stroke="#c8102e" stroke-width="1.4" stroke-linecap="butt"/>
<line x1="446.5" y1="240.5" x2="446.5" y2="238.5" stroke="#c8102e" stroke-width="1.4" stroke-linecap="butt"/>
<line x1="451.5" y1="240.5" x2="451.5" y2="238.5" stroke="#c8102e" stroke-width="1.4" stroke-linecap="butt"/>
<line x1="458.5" y1="240.5" x2="458.5" y2="238.5" stroke="#c8102e" stroke-width="1.4" stroke-linecap="butt"/>
<path d="M95.2 413.5H95.5 V416.5H108.5 V420.5H118.5 V423.5H126.5 V427.5H127.5 V432.5H130.5 V436.5H217.39" fill="none" stroke="#1a44b8" stroke-width="1.3" stroke-linejoin="miter"/>
<line x1="114.5" y1="420.5" x2="114.5" y2="418.5" stroke="#1a44b8" stroke-width="1.4" stroke-linecap="butt"/>
<line x1="121.5" y1="423.5" x2="121.5" y2="421.5" stroke="#1a44b8" stroke-width="1.4" stroke-linecap="butt"/>
<line x1="132.5" y1="436.5" x2="132.5" y2="434.5" stroke="#1a44b8" stroke-width="1.4" stroke-linecap="butt"/>
<line x1="150.5" y1="436.5" x2="150.5" y2="434.5" stroke="#1a44b8" stroke-width="1.4" stroke-linecap="butt"/>
<line x1="168.5" y1="436.5" x2="168.5" y2="434.5" stroke="#1a44b8" stroke-width="1.4" stroke-linecap="butt"/>
<line x1="202.5" y1="436.5" x2="202.5" y2="434.5" stroke="#1a44b8" stroke-width="1.4" stroke-linecap="butt"/>
<line x1="205.5" y1="436.5" x2="205.5" y2="434.5" stroke="#1a44b8" stroke-width="1.4" stroke-linecap="butt"/>
<line x1="216.5" y1="436.5" x2="216.5" y2="434.5" stroke="#1a44b8" stroke-width="1.4" stroke-linecap="butt"/>
<path d="M87.4 413.5H127.5 V415.5H145.5 V417.5H210.5 V420.5H217.39" fill="none" stroke="#c8102e" stroke-width="1.3" stroke-linejoin="miter"/>
<line x1="106.5" y1="413.5" x2="106.5" y2="411.5" stroke="#c8102e" stroke-width="1.4" stroke-linecap="butt"/>
<line x1="142.5" y1="415.5" x2="142.5" y2="413.5" stroke="#c8102e" stroke-width="1.4" stroke-linecap="butt"/>
<line x1="145.5" y1="415.5" x2="145.5" y2="413.5" stroke="#c8102e" stroke-width="1.4" stroke-linecap="butt"/>
<line x1="162.5" y1="417.5" x2="162.5" y2="415.5" stroke="#c8102e" stroke-width="1.4" stroke-linecap="butt"/>
<line x1="181.5" y1="417.5" x2="181.5" y2="415.5" stroke="#c8102e" stroke-width="1.4" stroke-linecap="butt"/>
<line x1="193.5" y1="417.5" x2="193.5" y2="415.5" stroke="#c8102e" stroke-width="1.4" stroke-linecap="butt"/>
<line x1="204.5" y1="417.5" x2="204.5" y2="415.5" stroke="#c8102e" stroke-width="1.4" stroke-linecap="butt"/>
<line x1="206.5" y1="417.5" x2="206.5" y2="415.5" stroke="#c8102e" stroke-width="1.4" stroke-linecap="butt"/>
<line x1="209.5" y1="417.5" x2="209.5" y2="415.5" stroke="#c8102e" stroke-width="1.4" stroke-linecap="butt"/>
<line x1="216.5" y1="420.5" x2="216.5" y2="418.5" stroke="#c8102e" stroke-width="1.4" stroke-linecap="butt"/>
<path d="M337.2 413.5H337.5 V416.5H361.5 V420.5H368.5 V424.5H369.5 V428.5H385.5 V432.5H459.39" fill="none" stroke="#1a44b8" stroke-width="1.3" stroke-linejoin="miter"/>
<line x1="356.5" y1="416.5" x2="356.5" y2="414.5" stroke="#1a44b8" stroke-width="1.4" stroke-linecap="butt"/>
<line x1="363.5" y1="420.5" x2="363.5" y2="418.5" stroke="#1a44b8" stroke-width="1.4" stroke-linecap="butt"/>
<line x1="375.5" y1="428.5" x2="375.5" y2="426.5" stroke="#1a44b8" stroke-width="1.4" stroke-linecap="butt"/>
<line x1="383.5" y1="428.5" x2="383.5" y2="426.5" stroke="#1a44b8" stroke-width="1.4" stroke-linecap="butt"/>
<line x1="389.5" y1="432.5" x2="389.5" y2="430.5" stroke="#1a44b8" stroke-width="1.4" stroke-linecap="butt"/>
<line x1="393.5" y1="432.5" x2="393.5" y2="430.5" stroke="#1a44b8" stroke-width="1.4" stroke-linecap="butt"/>
<line x1="411.5" y1="432.5" x2="411.5" y2="430.5" stroke="#1a44b8" stroke-width="1.4" stroke-linecap="butt"/>
<line x1="445.5" y1="432.5" x2="445.5" y2="430.5" stroke="#1a44b8" stroke-width="1.4" stroke-linecap="butt"/>
<line x1="447.5" y1="432.5" x2="447.5" y2="430.5" stroke="#1a44b8" stroke-width="1.4" stroke-linecap="butt"/>
<line x1="458.5" y1="432.5" x2="458.5" y2="430.5" stroke="#1a44b8" stroke-width="1.4" stroke-linecap="butt"/>
<path d="M329.4 413.5H369.5 V415.5H388.5 V417.5H453.5 V420.5H459.39" fill="none" stroke="#c8102e" stroke-width="1.3" stroke-linejoin="miter"/>
<line x1="349.5" y1="413.5" x2="349.5" y2="411.5" stroke="#c8102e" stroke-width="1.4" stroke-linecap="butt"/>
<line x1="385.5" y1="415.5" x2="385.5" y2="413.5" stroke="#c8102e" stroke-width="1.4" stroke-linecap="butt"/>
<line x1="387.5" y1="415.5" x2="387.5" y2="413.5" stroke="#c8102e" stroke-width="1.4" stroke-linecap="butt"/>
<line x1="404.5" y1="417.5" x2="404.5" y2="415.5" stroke="#c8102e" stroke-width="1.4" stroke-linecap="butt"/>
<line x1="423.5" y1="417.5" x2="423.5" y2="415.5" stroke="#c8102e" stroke-width="1.4" stroke-linecap="butt"/>
<line x1="436.5" y1="417.5" x2="436.5" y2="415.5" stroke="#c8102e" stroke-width="1.4" stroke-linecap="butt"/>
<line x1="446.5" y1="417.5" x2="446.5" y2="415.5" stroke="#c8102e" stroke-width="1.4" stroke-linecap="butt"/>
<line x1="449.5" y1="417.5" x2="449.5" y2="415.5" stroke="#c8102e" stroke-width="1.4" stroke-linecap="butt"/>
<line x1="452.5" y1="417.5" x2="452.5" y2="415.5" stroke="#c8102e" stroke-width="1.4" stroke-linecap="butt"/>
<line x1="458.5" y1="420.5" x2="458.5" y2="418.5" stroke="#c8102e" stroke-width="1.4" stroke-linecap="butt"/>
<path d="M87.4 596.5H88.5 V600.5H92.5 V602.5H96.5 V603.5H100.5 V605.5H102.5 V607.5H106.5 V609.5H108.5 V611.5H111.5 V613.5H122.5 V615.5H127.5 V620.5H140.5 V622.5H170.5 V626.5H217.39" fill="none" stroke="#55f535" stroke-width="1.3" stroke-linejoin="miter"/>
<line x1="148.5" y1="622.5" x2="148.5" y2="620.5" stroke="#55f535" stroke-width="1.4" stroke-linecap="butt"/>
<line x1="157.5" y1="622.5" x2="157.5" y2="620.5" stroke="#55f535" stroke-width="1.4" stroke-linecap="butt"/>
<line x1="160.5" y1="622.5" x2="160.5" y2="620.5" stroke="#55f535" stroke-width="1.4" stroke-linecap="butt"/>
<line x1="173.5" y1="626.5" x2="173.5" y2="624.5" stroke="#55f535" stroke-width="1.4" stroke-linecap="butt"/>
<line x1="181.5" y1="626.5" x2="181.5" y2="624.5" stroke="#55f535" stroke-width="1.4" stroke-linecap="butt"/>
<line x1="195.5" y1="626.5" x2="195.5" y2="624.5" stroke="#55f535" stroke-width="1.4" stroke-linecap="butt"/>
<line x1="204.5" y1="626.5" x2="204.5" y2="624.5" stroke="#55f535" stroke-width="1.4" stroke-linecap="butt"/>
<line x1="208.5" y1="626.5" x2="208.5" y2="624.5" stroke="#55f535" stroke-width="1.4" stroke-linecap="butt"/>
<line x1="210.5" y1="626.5" x2="210.5" y2="624.5" stroke="#55f535" stroke-width="1.4" stroke-linecap="butt"/>
<line x1="216.5" y1="626.5" x2="216.5" y2="624.5" stroke="#55f535" stroke-width="1.4" stroke-linecap="butt"/>
<path d="M87.4 596.5H88.5 V598.5H94.5 V600.5H96.5 V604.5H111.5 V606.5H113.5 V607.5H114.5 V608.5H118.5 V609.5H125.5 V612.5H137.5 V614.5H160.5 V617.5H175.5 V619.5H217.39" fill="none" stroke="#1a44b8" stroke-width="1.3" stroke-linejoin="miter"/>
<line x1="130.5" y1="612.5" x2="130.5" y2="610.5" stroke="#1a44b8" stroke-width="1.4" stroke-linecap="butt"/>
<line x1="140.5" y1="614.5" x2="140.5" y2="612.5" stroke="#1a44b8" stroke-width="1.4" stroke-linecap="butt"/>
<line x1="144.5" y1="614.5" x2="144.5" y2="612.5" stroke="#1a44b8" stroke-width="1.4" stroke-linecap="butt"/>
<line x1="151.5" y1="614.5" x2="151.5" y2="612.5" stroke="#1a44b8" stroke-width="1.4" stroke-linecap="butt"/>
<line x1="165.5" y1="617.5" x2="165.5" y2="615.5" stroke="#1a44b8" stroke-width="1.4" stroke-linecap="butt"/>
<line x1="209.5" y1="619.5" x2="209.5" y2="617.5" stroke="#1a44b8" stroke-width="1.4" stroke-linecap="butt"/>
<line x1="216.5" y1="619.5" x2="216.5" y2="617.5" stroke="#1a44b8" stroke-width="1.4" stroke-linecap="butt"/>
<path d="M87.4 596.5H217.39" fill="none" stroke="#c8102e" stroke-width="1.3" stroke-linejoin="miter"/>
<line x1="118.5" y1="596.5" x2="118.5" y2="594.5" stroke="#c8102e" stroke-width="1.4" stroke-linecap="butt"/>
<line x1="130.5" y1="596.5" x2="130.5" y2="594.5" stroke="#c8102e" stroke-width="1.4" stroke-linecap="butt"/>
<path d="M329.4 596.5H329.5 V599.5H333.5 V603.5H340.5 V605.5H341.5 V606.5H344.5 V607.5H348.5 V609.5H363.5 V611.5H369.5 V616.5H376.5 V618.5H413.5 V621.5H459.39" fill="none" stroke="#55f535" stroke-width="1.3" stroke-linejoin="miter"/>
<line x1="390.5" y1="618.5" x2="390.5" y2="616.5" stroke="#55f535" stroke-width="1.4" stroke-linecap="butt"/>
<line x1="398.5" y1="618.5" x2="398.5" y2="616.5" stroke="#55f535" stroke-width="1.4" stroke-linecap="butt"/>
<line x1="400.5" y1="618.5" x2="400.5" y2="616.5" stroke="#55f535" stroke-width="1.4" stroke-linecap="butt"/>
<line x1="403.5" y1="618.5" x2="403.5" y2="616.5" stroke="#55f535" stroke-width="1.4" stroke-linecap="butt"/>
<line x1="406.5" y1="618.5" x2="406.5" y2="616.5" stroke="#55f535" stroke-width="1.4" stroke-linecap="butt"/>
<line x1="409.5" y1="618.5" x2="409.5" y2="616.5" stroke="#55f535" stroke-width="1.4" stroke-linecap="butt"/>
<line x1="423.5" y1="621.5" x2="423.5" y2="619.5" stroke="#55f535" stroke-width="1.4" stroke-linecap="butt"/>
<line x1="437.5" y1="621.5" x2="437.5" y2="619.5" stroke="#55f535" stroke-width="1.4" stroke-linecap="butt"/>
<line x1="446.5" y1="621.5" x2="446.5" y2="619.5" stroke="#55f535" stroke-width="1.4" stroke-linecap="butt"/>
<line x1="450.5" y1="621.5" x2="450.5" y2="619.5" stroke="#55f535" stroke-width="1.4" stroke-linecap="butt"/>
<line x1="458.5" y1="621.5" x2="458.5" y2="619.5" stroke="#55f535" stroke-width="1.4" stroke-linecap="butt"/>
<path d="M329.4 596.5H330.5 V597.5H333.5 V598.5H338.5 V602.5H349.5 V604.5H355.5 V606.5H364.5 V608.5H395.5 V610.5H410.5 V613.5H443.5 V615.5H453.5 V618.5H459.39" fill="none" stroke="#1a44b8" stroke-width="1.3" stroke-linejoin="miter"/>
<line x1="372.5" y1="608.5" x2="372.5" y2="606.5" stroke="#1a44b8" stroke-width="1.4" stroke-linecap="butt"/>
<line x1="382.5" y1="608.5" x2="382.5" y2="606.5" stroke="#1a44b8" stroke-width="1.4" stroke-linecap="butt"/>
<line x1="385.5" y1="608.5" x2="385.5" y2="606.5" stroke="#1a44b8" stroke-width="1.4" stroke-linecap="butt"/>
<line x1="407.5" y1="610.5" x2="407.5" y2="608.5" stroke="#1a44b8" stroke-width="1.4" stroke-linecap="butt"/>
<line x1="409.5" y1="610.5" x2="409.5" y2="608.5" stroke="#1a44b8" stroke-width="1.4" stroke-linecap="butt"/>
<line x1="450.5" y1="615.5" x2="450.5" y2="613.5" stroke="#1a44b8" stroke-width="1.4" stroke-linecap="butt"/>
<line x1="458.5" y1="618.5" x2="458.5" y2="616.5" stroke="#1a44b8" stroke-width="1.4" stroke-linecap="butt"/>
<path d="M329.4 596.5H459.39" fill="none" stroke="#c8102e" stroke-width="1.3" stroke-linejoin="miter"/>
<line x1="360.5" y1="596.5" x2="360.5" y2="594.5" stroke="#c8102e" stroke-width="1.4" stroke-linecap="butt"/>
<line x1="372.5" y1="596.5" x2="372.5" y2="594.5" stroke="#c8102e" stroke-width="1.4" stroke-linecap="butt"/>
<text x="90.01" y="83.5" font-size="8.7" fill="#111" textLength="60.37" lengthAdjust="spacingAndGlyphs" style="stroke-width:0.05px">Log-rank, <tspan font-style="italic">P</tspan> <tspan font-weight="bold">=</tspan> .011</text>
<line x1="91" y1="91.2" x2="100.2" y2="91.2" stroke="#c8102e" stroke-width="1.3" stroke-linecap="butt"/>
<line x1="95.5" y1="91.2" x2="95.5" y2="88.9" stroke="#c8102e" stroke-width="1" stroke-linecap="butt"/>
<text x="102.01" y="94.2" font-size="8.7" fill="#111" textLength="63.64" lengthAdjust="spacingAndGlyphs" style="stroke-width:0.05px">PB-DLBCL (n <tspan font-weight="bold">=</tspan> 41)</text>
<line x1="91" y1="101" x2="100.2" y2="101" stroke="#1a44b8" stroke-width="1.3" stroke-linecap="butt"/>
<line x1="95.5" y1="101" x2="95.5" y2="98.7" stroke="#1a44b8" stroke-width="1" stroke-linecap="butt"/>
<text x="102.01" y="104" font-size="8.7" fill="#111" textLength="63.51" lengthAdjust="spacingAndGlyphs" style="stroke-width:0.05px">Polyostotic (n <tspan font-weight="bold">=</tspan> 14)</text>
<line x1="91" y1="111.3" x2="100.2" y2="111.3" stroke="#55f535" stroke-width="1.3" stroke-linecap="butt"/>
<line x1="95.5" y1="111.3" x2="95.5" y2="109" stroke="#55f535" stroke-width="1" stroke-linecap="butt"/>
<text x="102.01" y="113.6" font-size="8.7" fill="#111" textLength="72.55" lengthAdjust="spacingAndGlyphs" style="stroke-width:0.05px">Disseminated (n <tspan font-weight="bold">=</tspan> 48)</text>
<text x="332.01" y="83.6" font-size="8.7" fill="#111" textLength="60.92" lengthAdjust="spacingAndGlyphs" style="stroke-width:0.05px">Log-rank, <tspan font-style="italic">P</tspan> <tspan font-weight="bold">=</tspan> .042</text>
<line x1="333" y1="91.2" x2="342.2" y2="91.2" stroke="#c8102e" stroke-width="1.3" stroke-linecap="butt"/>
<line x1="337.5" y1="91.2" x2="337.5" y2="88.9" stroke="#c8102e" stroke-width="1" stroke-linecap="butt"/>
<text x="343.41" y="94.2" font-size="8.7" fill="#111" textLength="63.64" lengthAdjust="spacingAndGlyphs" style="stroke-width:0.05px">PB-DLBCL (n <tspan font-weight="bold">=</tspan> 41)</text>
<line x1="333" y1="101" x2="342.2" y2="101" stroke="#1a44b8" stroke-width="1.3" stroke-linecap="butt"/>
<line x1="337.5" y1="101" x2="337.5" y2="98.7" stroke="#1a44b8" stroke-width="1" stroke-linecap="butt"/>
<text x="343.41" y="104" font-size="8.7" fill="#111" textLength="63.51" lengthAdjust="spacingAndGlyphs" style="stroke-width:0.05px">Polyostotic (n <tspan font-weight="bold">=</tspan> 14)</text>
<line x1="333" y1="111.3" x2="342.2" y2="111.3" stroke="#55f535" stroke-width="1.3" stroke-linecap="butt"/>
<line x1="337.5" y1="111.3" x2="337.5" y2="109" stroke="#55f535" stroke-width="1" stroke-linecap="butt"/>
<text x="343.41" y="113.6" font-size="8.7" fill="#111" textLength="72.55" lengthAdjust="spacingAndGlyphs" style="stroke-width:0.05px">Disseminated (n <tspan font-weight="bold">=</tspan> 48)</text>
<text x="91.31" y="272.1" font-size="8.7" fill="#111" textLength="56.8" lengthAdjust="spacingAndGlyphs" style="stroke-width:0.05px">Log-rank, <tspan font-style="italic">P</tspan> <tspan font-weight="bold">=</tspan> .67</text>
<line x1="90.9" y1="280.4" x2="100.1" y2="280.4" stroke="#c8102e" stroke-width="1.3" stroke-linecap="butt"/>
<line x1="95.4" y1="280.4" x2="95.4" y2="278.1" stroke="#c8102e" stroke-width="1" stroke-linecap="butt"/>
<text x="102.21" y="282.4" font-size="8.7" fill="#111" textLength="63.1" lengthAdjust="spacingAndGlyphs" style="stroke-width:0.05px">Extranodal (n <tspan font-weight="bold">=</tspan> 16)</text>
<line x1="90.9" y1="289.2" x2="100.1" y2="289.2" stroke="#1a44b8" stroke-width="1.3" stroke-linecap="butt"/>
<line x1="95.4" y1="289.2" x2="95.4" y2="286.9" stroke="#1a44b8" stroke-width="1" stroke-linecap="butt"/>
<text x="102.21" y="291.4" font-size="8.7" fill="#111" textLength="47.07" lengthAdjust="spacingAndGlyphs" style="stroke-width:0.05px">Nodal (n <tspan font-weight="bold">=</tspan> 19)</text>
<line x1="90.9" y1="298.2" x2="100.1" y2="298.2" stroke="#55f535" stroke-width="1.3" stroke-linecap="butt"/>
<line x1="95.4" y1="298.2" x2="95.4" y2="295.9" stroke="#55f535" stroke-width="1" stroke-linecap="butt"/>
<text x="102.21" y="300.3" font-size="8.7" fill="#111" textLength="47.47" lengthAdjust="spacingAndGlyphs" style="stroke-width:0.05px">Mixed (n <tspan font-weight="bold">=</tspan> 28)</text>
<text x="332.21" y="271.8" font-size="8.7" fill="#111" textLength="56.8" lengthAdjust="spacingAndGlyphs" style="stroke-width:0.05px">Log-rank, <tspan font-style="italic">P</tspan> <tspan font-weight="bold">=</tspan> .48</text>
<line x1="332.9" y1="281" x2="342.1" y2="281" stroke="#c8102e" stroke-width="1.3" stroke-linecap="butt"/>
<line x1="337.4" y1="281" x2="337.4" y2="278.7" stroke="#c8102e" stroke-width="1" stroke-linecap="butt"/>
<text x="344.51" y="282.6" font-size="8.7" fill="#111" textLength="63.1" lengthAdjust="spacingAndGlyphs" style="stroke-width:0.05px">Extranodal (n <tspan font-weight="bold">=</tspan> 16)</text>
<line x1="332.9" y1="290.2" x2="342.1" y2="290.2" stroke="#1a44b8" stroke-width="1.3" stroke-linecap="butt"/>
<line x1="337.4" y1="290.2" x2="337.4" y2="287.9" stroke="#1a44b8" stroke-width="1" stroke-linecap="butt"/>
<text x="344.51" y="291.7" font-size="8.7" fill="#111" textLength="47.07" lengthAdjust="spacingAndGlyphs" style="stroke-width:0.05px">Nodal (n <tspan font-weight="bold">=</tspan> 19)</text>
<line x1="332.9" y1="299.3" x2="342.1" y2="299.3" stroke="#55f535" stroke-width="1.3" stroke-linecap="butt"/>
<line x1="337.4" y1="299.3" x2="337.4" y2="297" stroke="#55f535" stroke-width="1" stroke-linecap="butt"/>
<text x="344.51" y="300.8" font-size="8.7" fill="#111" textLength="47.47" lengthAdjust="spacingAndGlyphs" style="stroke-width:0.05px">Mixed (n <tspan font-weight="bold">=</tspan> 28)</text>
<text x="90.91" y="474.6" font-size="8.7" fill="#111" textLength="60.92" lengthAdjust="spacingAndGlyphs" style="stroke-width:0.05px">Log-rank, <tspan font-style="italic">P</tspan> <tspan font-weight="bold">=</tspan> .016</text>
<line x1="91.1" y1="484" x2="100.3" y2="484" stroke="#c8102e" stroke-width="1.3" stroke-linecap="butt"/>
<line x1="95.6" y1="484" x2="95.6" y2="481.7" stroke="#c8102e" stroke-width="1" stroke-linecap="butt"/>
<text x="102.51" y="486.1" font-size="8.7" fill="#111" textLength="63.64" lengthAdjust="spacingAndGlyphs" style="stroke-width:0.05px">PB-DLBCL (n <tspan font-weight="bold">=</tspan> 41)</text>
<line x1="91.1" y1="492.9" x2="100.3" y2="492.9" stroke="#1a44b8" stroke-width="1.3" stroke-linecap="butt"/>
<line x1="95.6" y1="492.9" x2="95.6" y2="490.6" stroke="#1a44b8" stroke-width="1" stroke-linecap="butt"/>
<text x="102.51" y="495.7" font-size="8.7" fill="#111" textLength="83.63" lengthAdjust="spacingAndGlyphs" style="stroke-width:0.05px">NO-DLBCL-GCB (n <tspan font-weight="bold">=</tspan> 24)</text>
<text x="332.91" y="475.6" font-size="8.7" fill="#111" textLength="60.92" lengthAdjust="spacingAndGlyphs" style="stroke-width:0.05px">Log-rank, <tspan font-style="italic">P</tspan> <tspan font-weight="bold">=</tspan> .046</text>
<line x1="332.9" y1="484" x2="342.1" y2="484" stroke="#c8102e" stroke-width="1.3" stroke-linecap="butt"/>
<line x1="337.4" y1="484" x2="337.4" y2="481.7" stroke="#c8102e" stroke-width="1" stroke-linecap="butt"/>
<text x="343.41" y="486.4" font-size="8.7" fill="#111" textLength="63.64" lengthAdjust="spacingAndGlyphs" style="stroke-width:0.05px">PB-DLBCL (n <tspan font-weight="bold">=</tspan> 41)</text>
<line x1="332.9" y1="492.8" x2="342.1" y2="492.8" stroke="#1a44b8" stroke-width="1.3" stroke-linecap="butt"/>
<line x1="337.4" y1="492.8" x2="337.4" y2="490.5" stroke="#1a44b8" stroke-width="1" stroke-linecap="butt"/>
<text x="343.41" y="494.8" font-size="8.7" fill="#111" textLength="83.63" lengthAdjust="spacingAndGlyphs" style="stroke-width:0.05px">NO-DLBCL-GCB (n <tspan font-weight="bold">=</tspan> 24)</text>
<text x="90.21" y="651.6" font-size="8.7" fill="#111" textLength="60.92" lengthAdjust="spacingAndGlyphs" style="stroke-width:0.05px">Log-rank, <tspan font-style="italic">P</tspan> <tspan font-weight="bold">=</tspan> .063</text>
<line x1="90.9" y1="659.3" x2="100.1" y2="659.3" stroke="#c8102e" stroke-width="1.3" stroke-linecap="butt"/>
<line x1="95.4" y1="659.3" x2="95.4" y2="657" stroke="#c8102e" stroke-width="1" stroke-linecap="butt"/>
<text x="101.31" y="661.2" font-size="8.7" fill="#111" textLength="63.51" lengthAdjust="spacingAndGlyphs" style="stroke-width:0.05px">Polyostotic (n <tspan font-weight="bold">=</tspan> 14)</text>
<line x1="90.9" y1="668.3" x2="100.1" y2="668.3" stroke="#1a44b8" stroke-width="1.3" stroke-linecap="butt"/>
<line x1="95.4" y1="668.3" x2="95.4" y2="666" stroke="#1a44b8" stroke-width="1" stroke-linecap="butt"/>
<text x="101.31" y="670.1" font-size="8.7" fill="#111" textLength="72.55" lengthAdjust="spacingAndGlyphs" style="stroke-width:0.05px">Disseminated (n <tspan font-weight="bold">=</tspan> 45)</text>
<line x1="90.9" y1="677.4" x2="100.1" y2="677.4" stroke="#55f535" stroke-width="1.3" stroke-linecap="butt"/>
<line x1="95.4" y1="677.4" x2="95.4" y2="675.1" stroke="#55f535" stroke-width="1" stroke-linecap="butt"/>
<text x="101.31" y="678.9" font-size="8.7" fill="#111" textLength="83.63" lengthAdjust="spacingAndGlyphs" style="stroke-width:0.05px">NO-DLBCL-GCB (n <tspan font-weight="bold">=</tspan> 39)</text>
<text x="332.01" y="651.8" font-size="8.7" fill="#111" textLength="60.92" lengthAdjust="spacingAndGlyphs" style="stroke-width:0.05px">Log-rank, <tspan font-style="italic">P</tspan> <tspan font-weight="bold">=</tspan> .096</text>
<line x1="332.9" y1="660.3" x2="342.1" y2="660.3" stroke="#c8102e" stroke-width="1.3" stroke-linecap="butt"/>
<line x1="337.4" y1="660.3" x2="337.4" y2="658" stroke="#c8102e" stroke-width="1" stroke-linecap="butt"/>
<text x="345.31" y="662.8" font-size="8.7" fill="#111" textLength="63.51" lengthAdjust="spacingAndGlyphs" style="stroke-width:0.05px">Polyostotic (n <tspan font-weight="bold">=</tspan> 14)</text>
<line x1="332.9" y1="668.9" x2="342.1" y2="668.9" stroke="#1a44b8" stroke-width="1.3" stroke-linecap="butt"/>
<line x1="337.4" y1="668.9" x2="337.4" y2="666.6" stroke="#1a44b8" stroke-width="1" stroke-linecap="butt"/>
<text x="345.31" y="671.6" font-size="8.7" fill="#111" textLength="72.55" lengthAdjust="spacingAndGlyphs" style="stroke-width:0.05px">Disseminated (n <tspan font-weight="bold">=</tspan> 45)</text>
<line x1="332.9" y1="677.2" x2="342.1" y2="677.2" stroke="#55f535" stroke-width="1.3" stroke-linecap="butt"/>
<line x1="337.4" y1="677.2" x2="337.4" y2="674.9" stroke="#55f535" stroke-width="1" stroke-linecap="butt"/>
<text x="345.31" y="679.3" font-size="8.7" fill="#111" textLength="83.63" lengthAdjust="spacingAndGlyphs" style="stroke-width:0.05px">NO-DLBCL-GCB (n <tspan font-weight="bold">=</tspan> 39)</text>
<text x="88.23" y="148.6" font-size="9.5" fill="#111" textLength="54.59" lengthAdjust="spacingAndGlyphs">Number at risk</text>
<rect x="86.8" y="151.4" width="141.7" height="23.7" fill="none" stroke="#111" stroke-width="1.25"/>
<line x1="93.2" y1="175.1" x2="93.2" y2="177.7" stroke="#111" stroke-width="1.1" stroke-linecap="butt"/>
<text x="93.3" y="185.7" font-size="7.4" fill="#111" text-anchor="middle">0</text>
<line x1="136" y1="175.1" x2="136" y2="177.7" stroke="#111" stroke-width="1.1" stroke-linecap="butt"/>
<text x="136.1" y="185.7" font-size="7.4" fill="#111" text-anchor="middle">1</text>
<line x1="178.8" y1="175.1" x2="178.8" y2="177.7" stroke="#111" stroke-width="1.1" stroke-linecap="butt"/>
<text x="178.9" y="185.7" font-size="7.4" fill="#111" text-anchor="middle">2</text>
<line x1="221.6" y1="175.1" x2="221.6" y2="177.7" stroke="#111" stroke-width="1.1" stroke-linecap="butt"/>
<text x="221.7" y="185.7" font-size="7.4" fill="#111" text-anchor="middle">3</text>
<text x="93.4" y="158.5" font-size="7.8" fill="#111" text-anchor="middle">41</text>
<text x="136.2" y="158.5" font-size="7.8" fill="#111" text-anchor="middle">39</text>
<text x="179" y="158.5" font-size="7.8" fill="#111" text-anchor="middle">35</text>
<text x="221.8" y="158.5" font-size="7.8" fill="#111" text-anchor="middle">27</text>
<text x="93.4" y="165.9" font-size="7.8" fill="#111" text-anchor="middle">14</text>
<text x="136.2" y="165.9" font-size="7.8" fill="#111" text-anchor="middle">13</text>
<text x="179" y="165.9" font-size="7.8" fill="#111" text-anchor="middle">12</text>
<text x="221.8" y="165.9" font-size="7.8" fill="#111" text-anchor="middle">10</text>
<text x="93.4" y="173.4" font-size="7.8" fill="#111" text-anchor="middle">48</text>
<text x="136.2" y="173.4" font-size="7.8" fill="#111" text-anchor="middle">36</text>
<text x="179" y="173.4" font-size="7.8" fill="#111" text-anchor="middle">29</text>
<text x="221.8" y="173.4" font-size="7.8" fill="#111" text-anchor="middle">27</text>
<line x1="34.1" y1="155.6" x2="43.5" y2="155.6" stroke="#c8102e" stroke-width="1.2" stroke-linecap="butt"/>
<line x1="38.8" y1="155.6" x2="38.8" y2="153.6" stroke="#c8102e" stroke-width="1" stroke-linecap="butt"/>
<text x="45.38" y="158.1" font-size="7.2" fill="#111" textLength="31.62" lengthAdjust="spacingAndGlyphs" style="stroke-width:0">PB-DLBCL</text>
<line x1="34.1" y1="163.5" x2="43.5" y2="163.5" stroke="#1a44b8" stroke-width="1.2" stroke-linecap="butt"/>
<line x1="38.8" y1="163.5" x2="38.8" y2="161.5" stroke="#1a44b8" stroke-width="1" stroke-linecap="butt"/>
<text x="45.4" y="165.9" font-size="7.2" fill="#111" textLength="29.95" lengthAdjust="spacingAndGlyphs" style="stroke-width:0">Polyostotic</text>
<line x1="34.1" y1="170.4" x2="43.5" y2="170.4" stroke="#55f535" stroke-width="1.2" stroke-linecap="butt"/>
<line x1="38.8" y1="170.4" x2="38.8" y2="168.4" stroke="#55f535" stroke-width="1" stroke-linecap="butt"/>
<text x="45.39" y="173.2" font-size="7.2" fill="#111" textLength="38.34" lengthAdjust="spacingAndGlyphs" style="stroke-width:0">Disseminated</text>
<text x="330.23" y="148.5" font-size="9.5" fill="#111" textLength="54.59" lengthAdjust="spacingAndGlyphs">Number at risk</text>
<rect x="328.8" y="151.4" width="141.7" height="23.8" fill="none" stroke="#111" stroke-width="1.25"/>
<line x1="335.2" y1="175.2" x2="335.2" y2="177.8" stroke="#111" stroke-width="1.1" stroke-linecap="butt"/>
<text x="335.3" y="185.8" font-size="7.4" fill="#111" text-anchor="middle">0</text>
<line x1="378" y1="175.2" x2="378" y2="177.8" stroke="#111" stroke-width="1.1" stroke-linecap="butt"/>
<text x="378.1" y="185.8" font-size="7.4" fill="#111" text-anchor="middle">1</text>
<line x1="420.8" y1="175.2" x2="420.8" y2="177.8" stroke="#111" stroke-width="1.1" stroke-linecap="butt"/>
<text x="420.9" y="185.8" font-size="7.4" fill="#111" text-anchor="middle">2</text>
<line x1="463.6" y1="175.2" x2="463.6" y2="177.8" stroke="#111" stroke-width="1.1" stroke-linecap="butt"/>
<text x="463.7" y="185.8" font-size="7.4" fill="#111" text-anchor="middle">3</text>
<text x="335.4" y="158.4" font-size="7.8" fill="#111" text-anchor="middle">41</text>
<text x="378.2" y="158.4" font-size="7.8" fill="#111" text-anchor="middle">39</text>
<text x="421" y="158.4" font-size="7.8" fill="#111" text-anchor="middle">35</text>
<text x="463.8" y="158.4" font-size="7.8" fill="#111" text-anchor="middle">27</text>
<text x="335.4" y="165.7" font-size="7.8" fill="#111" text-anchor="middle">14</text>
<text x="378.2" y="165.7" font-size="7.8" fill="#111" text-anchor="middle">13</text>
<text x="421" y="165.7" font-size="7.8" fill="#111" text-anchor="middle">12</text>
<text x="463.8" y="165.7" font-size="7.8" fill="#111" text-anchor="middle">10</text>
<text x="335.4" y="173.3" font-size="7.8" fill="#111" text-anchor="middle">48</text>
<text x="378.2" y="173.3" font-size="7.8" fill="#111" text-anchor="middle">38</text>
<text x="421" y="173.3" font-size="7.8" fill="#111" text-anchor="middle">30</text>
<text x="463.8" y="173.3" font-size="7.8" fill="#111" text-anchor="middle">27</text>
<text x="88.23" y="334.5" font-size="9.5" fill="#111" textLength="54.59" lengthAdjust="spacingAndGlyphs">Number at risk</text>
<rect x="86.8" y="337.6" width="141.7" height="23.6" fill="none" stroke="#111" stroke-width="1.25"/>
<line x1="93.2" y1="361.2" x2="93.2" y2="363.8" stroke="#111" stroke-width="1.1" stroke-linecap="butt"/>
<text x="93.3" y="371.8" font-size="7.4" fill="#111" text-anchor="middle">0</text>
<line x1="136" y1="361.2" x2="136" y2="363.8" stroke="#111" stroke-width="1.1" stroke-linecap="butt"/>
<text x="136.1" y="371.8" font-size="7.4" fill="#111" text-anchor="middle">1</text>
<line x1="178.8" y1="361.2" x2="178.8" y2="363.8" stroke="#111" stroke-width="1.1" stroke-linecap="butt"/>
<text x="178.9" y="371.8" font-size="7.4" fill="#111" text-anchor="middle">2</text>
<line x1="221.6" y1="361.2" x2="221.6" y2="363.8" stroke="#111" stroke-width="1.1" stroke-linecap="butt"/>
<text x="221.7" y="371.8" font-size="7.4" fill="#111" text-anchor="middle">3</text>
<text x="93.4" y="344.5" font-size="7.8" fill="#111" text-anchor="middle">16</text>
<text x="136.2" y="344.5" font-size="7.8" fill="#111" text-anchor="middle">12</text>
<text x="179" y="344.5" font-size="7.8" fill="#111" text-anchor="middle">11</text>
<text x="221.8" y="344.5" font-size="7.8" fill="#111" text-anchor="middle">6</text>
<text x="93.4" y="351.9" font-size="7.8" fill="#111" text-anchor="middle">19</text>
<text x="136.2" y="351.9" font-size="7.8" fill="#111" text-anchor="middle">14</text>
<text x="179" y="351.9" font-size="7.8" fill="#111" text-anchor="middle">7</text>
<text x="221.8" y="351.9" font-size="7.8" fill="#111" text-anchor="middle">5</text>
<text x="93.4" y="359.6" font-size="7.8" fill="#111" text-anchor="middle">28</text>
<text x="136.2" y="359.6" font-size="7.8" fill="#111" text-anchor="middle">18</text>
<text x="179" y="359.6" font-size="7.8" fill="#111" text-anchor="middle">11</text>
<text x="221.8" y="359.6" font-size="7.8" fill="#111" text-anchor="middle">6</text>
<line x1="41" y1="341.1" x2="50.4" y2="341.1" stroke="#c8102e" stroke-width="1.2" stroke-linecap="butt"/>
<line x1="45.7" y1="341.1" x2="45.7" y2="339.1" stroke="#c8102e" stroke-width="1" stroke-linecap="butt"/>
<text x="52.31" y="342.9" font-size="7.2" fill="#111" textLength="29.5" lengthAdjust="spacingAndGlyphs" style="stroke-width:0">Extranodal</text>
<line x1="41" y1="348.9" x2="50.4" y2="348.9" stroke="#1a44b8" stroke-width="1.2" stroke-linecap="butt"/>
<line x1="45.7" y1="348.9" x2="45.7" y2="346.9" stroke="#1a44b8" stroke-width="1" stroke-linecap="butt"/>
<text x="52.29" y="350.8" font-size="7.2" fill="#111" textLength="16.64" lengthAdjust="spacingAndGlyphs" style="stroke-width:0">Nodal</text>
<line x1="41" y1="356.8" x2="50.4" y2="356.8" stroke="#55f535" stroke-width="1.2" stroke-linecap="butt"/>
<line x1="45.7" y1="356.8" x2="45.7" y2="354.8" stroke="#55f535" stroke-width="1" stroke-linecap="butt"/>
<text x="52.3" y="358.6" font-size="7.2" fill="#111" textLength="16.62" lengthAdjust="spacingAndGlyphs" style="stroke-width:0">Mixed</text>
<text x="330.23" y="334.5" font-size="9.5" fill="#111" textLength="54.59" lengthAdjust="spacingAndGlyphs">Number at risk</text>
<rect x="328.8" y="337.4" width="141.7" height="23.8" fill="none" stroke="#111" stroke-width="1.25"/>
<line x1="335.2" y1="361.2" x2="335.2" y2="363.8" stroke="#111" stroke-width="1.1" stroke-linecap="butt"/>
<text x="335.3" y="371.8" font-size="7.4" fill="#111" text-anchor="middle">0</text>
<line x1="378" y1="361.2" x2="378" y2="363.8" stroke="#111" stroke-width="1.1" stroke-linecap="butt"/>
<text x="378.1" y="371.8" font-size="7.4" fill="#111" text-anchor="middle">1</text>
<line x1="420.8" y1="361.2" x2="420.8" y2="363.8" stroke="#111" stroke-width="1.1" stroke-linecap="butt"/>
<text x="420.9" y="371.8" font-size="7.4" fill="#111" text-anchor="middle">2</text>
<line x1="463.6" y1="361.2" x2="463.6" y2="363.8" stroke="#111" stroke-width="1.1" stroke-linecap="butt"/>
<text x="463.7" y="371.8" font-size="7.4" fill="#111" text-anchor="middle">3</text>
<text x="335.4" y="343.7" font-size="7.8" fill="#111" text-anchor="middle">16</text>
<text x="378.2" y="343.7" font-size="7.8" fill="#111" text-anchor="middle">12</text>
<text x="421" y="343.7" font-size="7.8" fill="#111" text-anchor="middle">12</text>
<text x="463.8" y="343.7" font-size="7.8" fill="#111" text-anchor="middle">7</text>
<text x="335.4" y="351.2" font-size="7.8" fill="#111" text-anchor="middle">19</text>
<text x="378.2" y="351.2" font-size="7.8" fill="#111" text-anchor="middle">15</text>
<text x="421" y="351.2" font-size="7.8" fill="#111" text-anchor="middle">8</text>
<text x="463.8" y="351.2" font-size="7.8" fill="#111" text-anchor="middle">6</text>
<text x="335.4" y="358.6" font-size="7.8" fill="#111" text-anchor="middle">28</text>
<text x="378.2" y="358.6" font-size="7.8" fill="#111" text-anchor="middle">20</text>
<text x="421" y="358.6" font-size="7.8" fill="#111" text-anchor="middle">11</text>
<text x="463.8" y="358.6" font-size="7.8" fill="#111" text-anchor="middle">6</text>
<text x="88.23" y="529.1" font-size="9.5" fill="#111" textLength="54.59" lengthAdjust="spacingAndGlyphs">Number at risk</text>
<rect x="86.8" y="533.1" width="141.7" height="21.2" fill="none" stroke="#111" stroke-width="1.25"/>
<line x1="93.2" y1="554.3" x2="93.2" y2="556.9" stroke="#111" stroke-width="1.1" stroke-linecap="butt"/>
<text x="93.3" y="564.9" font-size="7.4" fill="#111" text-anchor="middle">0</text>
<line x1="136" y1="554.3" x2="136" y2="556.9" stroke="#111" stroke-width="1.1" stroke-linecap="butt"/>
<text x="136.1" y="564.9" font-size="7.4" fill="#111" text-anchor="middle">1</text>
<line x1="178.8" y1="554.3" x2="178.8" y2="556.9" stroke="#111" stroke-width="1.1" stroke-linecap="butt"/>
<text x="178.9" y="564.9" font-size="7.4" fill="#111" text-anchor="middle">2</text>
<line x1="221.6" y1="554.3" x2="221.6" y2="556.9" stroke="#111" stroke-width="1.1" stroke-linecap="butt"/>
<text x="221.7" y="564.9" font-size="7.4" fill="#111" text-anchor="middle">3</text>
<text x="93.4" y="542.5" font-size="7.8" fill="#111" text-anchor="middle">41</text>
<text x="136.2" y="542.5" font-size="7.8" fill="#111" text-anchor="middle">39</text>
<text x="179" y="542.5" font-size="7.8" fill="#111" text-anchor="middle">35</text>
<text x="221.8" y="542.5" font-size="7.8" fill="#111" text-anchor="middle">27</text>
<text x="93.4" y="550.6" font-size="7.8" fill="#111" text-anchor="middle">24</text>
<text x="136.2" y="550.6" font-size="7.8" fill="#111" text-anchor="middle">16</text>
<text x="179" y="550.6" font-size="7.8" fill="#111" text-anchor="middle">9</text>
<text x="221.8" y="550.6" font-size="7.8" fill="#111" text-anchor="middle">7</text>
<line x1="21.1" y1="539.8" x2="30.5" y2="539.8" stroke="#c8102e" stroke-width="1.2" stroke-linecap="butt"/>
<line x1="25.8" y1="539.8" x2="25.8" y2="537.8" stroke="#c8102e" stroke-width="1" stroke-linecap="butt"/>
<text x="33.78" y="542.7" font-size="7.2" fill="#111" textLength="31.72" lengthAdjust="spacingAndGlyphs" style="stroke-width:0">PB-DLBCL</text>
<line x1="21.1" y1="548.6" x2="30.5" y2="548.6" stroke="#1a44b8" stroke-width="1.2" stroke-linecap="butt"/>
<line x1="25.8" y1="548.6" x2="25.8" y2="546.6" stroke="#1a44b8" stroke-width="1" stroke-linecap="butt"/>
<text x="33.78" y="549.9" font-size="7.2" fill="#111" textLength="49.56" lengthAdjust="spacingAndGlyphs" style="stroke-width:0">NO-DLBCL-GCB</text>
<text x="330.23" y="529.2" font-size="9.5" fill="#111" textLength="54.59" lengthAdjust="spacingAndGlyphs">Number at risk</text>
<rect x="328.8" y="533.1" width="141.7" height="21.4" fill="none" stroke="#111" stroke-width="1.25"/>
<line x1="335.2" y1="554.5" x2="335.2" y2="557.1" stroke="#111" stroke-width="1.1" stroke-linecap="butt"/>
<text x="335.3" y="565.1" font-size="7.4" fill="#111" text-anchor="middle">0</text>
<line x1="378" y1="554.5" x2="378" y2="557.1" stroke="#111" stroke-width="1.1" stroke-linecap="butt"/>
<text x="378.1" y="565.1" font-size="7.4" fill="#111" text-anchor="middle">1</text>
<line x1="420.8" y1="554.5" x2="420.8" y2="557.1" stroke="#111" stroke-width="1.1" stroke-linecap="butt"/>
<text x="420.9" y="565.1" font-size="7.4" fill="#111" text-anchor="middle">2</text>
<line x1="463.6" y1="554.5" x2="463.6" y2="557.1" stroke="#111" stroke-width="1.1" stroke-linecap="butt"/>
<text x="463.7" y="565.1" font-size="7.4" fill="#111" text-anchor="middle">3</text>
<text x="335.4" y="542.3" font-size="7.8" fill="#111" text-anchor="middle">41</text>
<text x="378.2" y="542.3" font-size="7.8" fill="#111" text-anchor="middle">39</text>
<text x="421" y="542.3" font-size="7.8" fill="#111" text-anchor="middle">35</text>
<text x="463.8" y="542.3" font-size="7.8" fill="#111" text-anchor="middle">27</text>
<text x="335.4" y="550.5" font-size="7.8" fill="#111" text-anchor="middle">24</text>
<text x="378.2" y="550.5" font-size="7.8" fill="#111" text-anchor="middle">17</text>
<text x="421" y="550.5" font-size="7.8" fill="#111" text-anchor="middle">10</text>
<text x="463.8" y="550.5" font-size="7.8" fill="#111" text-anchor="middle">8</text>
<text x="88.23" y="712.7" font-size="9.5" fill="#111" textLength="54.59" lengthAdjust="spacingAndGlyphs">Number at risk</text>
<rect x="86.8" y="716.2" width="142.7" height="23.5" fill="none" stroke="#111" stroke-width="1.25"/>
<line x1="93.2" y1="739.7" x2="93.2" y2="742.3" stroke="#111" stroke-width="1.1" stroke-linecap="butt"/>
<text x="93.3" y="750.3" font-size="7.4" fill="#111" text-anchor="middle">0</text>
<line x1="136" y1="739.7" x2="136" y2="742.3" stroke="#111" stroke-width="1.1" stroke-linecap="butt"/>
<text x="136.1" y="750.3" font-size="7.4" fill="#111" text-anchor="middle">1</text>
<line x1="178.8" y1="739.7" x2="178.8" y2="742.3" stroke="#111" stroke-width="1.1" stroke-linecap="butt"/>
<text x="178.9" y="750.3" font-size="7.4" fill="#111" text-anchor="middle">2</text>
<line x1="221.6" y1="739.7" x2="221.6" y2="742.3" stroke="#111" stroke-width="1.1" stroke-linecap="butt"/>
<text x="221.7" y="750.3" font-size="7.4" fill="#111" text-anchor="middle">3</text>
<text x="93.4" y="722.9" font-size="7.8" fill="#111" text-anchor="middle">14</text>
<text x="136.2" y="722.9" font-size="7.8" fill="#111" text-anchor="middle">13</text>
<text x="179" y="722.9" font-size="7.8" fill="#111" text-anchor="middle">12</text>
<text x="221.8" y="722.9" font-size="7.8" fill="#111" text-anchor="middle">10</text>
<text x="93.4" y="730.2" font-size="7.8" fill="#111" text-anchor="middle">45</text>
<text x="136.2" y="730.2" font-size="7.8" fill="#111" text-anchor="middle">33</text>
<text x="179" y="730.2" font-size="7.8" fill="#111" text-anchor="middle">27</text>
<text x="221.8" y="730.2" font-size="7.8" fill="#111" text-anchor="middle">25</text>
<text x="93.4" y="737.7" font-size="7.8" fill="#111" text-anchor="middle">39</text>
<text x="136.2" y="737.7" font-size="7.8" fill="#111" text-anchor="middle">28</text>
<text x="179" y="737.7" font-size="7.8" fill="#111" text-anchor="middle">20</text>
<text x="221.8" y="737.7" font-size="7.8" fill="#111" text-anchor="middle">10</text>
<line x1="21.1" y1="720.8" x2="30.5" y2="720.8" stroke="#c8102e" stroke-width="1.2" stroke-linecap="butt"/>
<line x1="25.8" y1="720.8" x2="25.8" y2="718.8" stroke="#c8102e" stroke-width="1" stroke-linecap="butt"/>
<text x="33.7" y="722.8" font-size="7.2" fill="#111" textLength="30.36" lengthAdjust="spacingAndGlyphs" style="stroke-width:0">Polyostotic</text>
<line x1="21.1" y1="728.2" x2="30.5" y2="728.2" stroke="#1a44b8" stroke-width="1.2" stroke-linecap="butt"/>
<line x1="25.8" y1="728.2" x2="25.8" y2="726.2" stroke="#1a44b8" stroke-width="1" stroke-linecap="butt"/>
<text x="33.71" y="729.7" font-size="7.2" fill="#111" textLength="37.42" lengthAdjust="spacingAndGlyphs" style="stroke-width:0">Disseminated</text>
<line x1="21.1" y1="735.2" x2="30.5" y2="735.2" stroke="#55f535" stroke-width="1.2" stroke-linecap="butt"/>
<line x1="25.8" y1="735.2" x2="25.8" y2="733.2" stroke="#55f535" stroke-width="1" stroke-linecap="butt"/>
<text x="33.68" y="736.9" font-size="7.2" fill="#111" textLength="49.36" lengthAdjust="spacingAndGlyphs" style="stroke-width:0">NO-DLBCL-GCB</text>
<text x="330.23" y="712.7" font-size="9.5" fill="#111" textLength="54.59" lengthAdjust="spacingAndGlyphs">Number at risk</text>
<rect x="328.8" y="716" width="142.9" height="23.8" fill="none" stroke="#111" stroke-width="1.25"/>
<line x1="335.2" y1="739.8" x2="335.2" y2="742.4" stroke="#111" stroke-width="1.1" stroke-linecap="butt"/>
<text x="335.3" y="750.4" font-size="7.4" fill="#111" text-anchor="middle">0</text>
<line x1="378" y1="739.8" x2="378" y2="742.4" stroke="#111" stroke-width="1.1" stroke-linecap="butt"/>
<text x="378.1" y="750.4" font-size="7.4" fill="#111" text-anchor="middle">1</text>
<line x1="420.8" y1="739.8" x2="420.8" y2="742.4" stroke="#111" stroke-width="1.1" stroke-linecap="butt"/>
<text x="420.9" y="750.4" font-size="7.4" fill="#111" text-anchor="middle">2</text>
<line x1="463.6" y1="739.8" x2="463.6" y2="742.4" stroke="#111" stroke-width="1.1" stroke-linecap="butt"/>
<text x="463.7" y="750.4" font-size="7.4" fill="#111" text-anchor="middle">3</text>
<text x="335.4" y="722.9" font-size="7.8" fill="#111" text-anchor="middle">14</text>
<text x="378.2" y="722.9" font-size="7.8" fill="#111" text-anchor="middle">13</text>
<text x="421" y="722.9" font-size="7.8" fill="#111" text-anchor="middle">12</text>
<text x="463.8" y="722.9" font-size="7.8" fill="#111" text-anchor="middle">10</text>
<text x="335.4" y="730" font-size="7.8" fill="#111" text-anchor="middle">45</text>
<text x="378.2" y="730" font-size="7.8" fill="#111" text-anchor="middle">35</text>
<text x="421" y="730" font-size="7.8" fill="#111" text-anchor="middle">28</text>
<text x="463.8" y="730" font-size="7.8" fill="#111" text-anchor="middle">25</text>
<text x="335.4" y="737.7" font-size="7.8" fill="#111" text-anchor="middle">39</text>
<text x="378.2" y="737.7" font-size="7.8" fill="#111" text-anchor="middle">30</text>
<text x="421" y="737.7" font-size="7.8" fill="#111" text-anchor="middle">21</text>
<text x="463.8" y="737.7" font-size="7.8" fill="#111" text-anchor="middle">11</text>
</g>
<rect x="0" y="0" width="520" height="1.4" fill="#000"/><rect x="0" y="0" width="1.4" height="755" fill="#000"/><rect x="518.2" y="0" width="1.8" height="755" fill="#000"/><rect x="0" y="753.2" width="520" height="1.8" fill="#000"/>
</svg>
</body></html>
